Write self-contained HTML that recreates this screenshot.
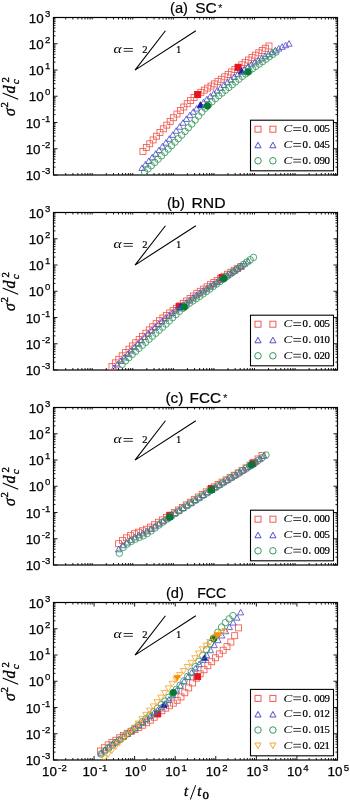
<!DOCTYPE html>
<html><head><meta charset="utf-8"><style>
html,body{margin:0;padding:0;background:#fff;width:350px;height:801px;overflow:hidden}
svg{display:block;will-change:transform}
.tl{font-family:"Liberation Sans",sans-serif;font-size:13.4px;fill:#000;stroke:#000;stroke-width:0.25px}
.sp{font-size:9.6px}
.tt{font-family:"Liberation Sans",sans-serif;font-size:14.5px;fill:#000;stroke:#000;stroke-width:0.2px}
.st{font-family:"Liberation Sans",sans-serif;fill:#000}
.mi{font-family:"Liberation Serif",serif;font-style:italic;fill:#000}

.lg{stroke:#000;stroke-width:0.2px}

.bd text{stroke:#000;stroke-width:0.35px}
.mr{font-family:"Liberation Serif",serif;fill:#000}
</style></head><body>
<svg width="350" height="801" viewBox="0 0 350 801">
<path d="M65.71 175.0v-2M65.71 17.5v2M72.86 175.0v-2M72.86 17.5v2M77.93 175.0v-2M77.93 17.5v2M81.86 175.0v-2M81.86 17.5v2M85.07 175.0v-2M85.07 17.5v2M87.79 175.0v-2M87.79 17.5v2M90.14 175.0v-2M90.14 17.5v2M92.21 175.0v-2M92.21 17.5v2M106.28 175.0v-2M106.28 17.5v2M113.43 175.0v-2M113.43 17.5v2M118.50 175.0v-2M118.50 17.5v2M122.43 175.0v-2M122.43 17.5v2M125.64 175.0v-2M125.64 17.5v2M128.36 175.0v-2M128.36 17.5v2M130.71 175.0v-2M130.71 17.5v2M132.78 175.0v-2M132.78 17.5v2M146.85 175.0v-2M146.85 17.5v2M154.00 175.0v-2M154.00 17.5v2M159.07 175.0v-2M159.07 17.5v2M163.00 175.0v-2M163.00 17.5v2M166.21 175.0v-2M166.21 17.5v2M168.93 175.0v-2M168.93 17.5v2M171.28 175.0v-2M171.28 17.5v2M173.35 175.0v-2M173.35 17.5v2M187.42 175.0v-2M187.42 17.5v2M194.57 175.0v-2M194.57 17.5v2M199.64 175.0v-2M199.64 17.5v2M203.57 175.0v-2M203.57 17.5v2M206.78 175.0v-2M206.78 17.5v2M209.50 175.0v-2M209.50 17.5v2M211.85 175.0v-2M211.85 17.5v2M213.92 175.0v-2M213.92 17.5v2M227.99 175.0v-2M227.99 17.5v2M235.14 175.0v-2M235.14 17.5v2M240.21 175.0v-2M240.21 17.5v2M244.14 175.0v-2M244.14 17.5v2M247.35 175.0v-2M247.35 17.5v2M250.07 175.0v-2M250.07 17.5v2M252.42 175.0v-2M252.42 17.5v2M254.49 175.0v-2M254.49 17.5v2M268.56 175.0v-2M268.56 17.5v2M275.71 175.0v-2M275.71 17.5v2M280.78 175.0v-2M280.78 17.5v2M284.71 175.0v-2M284.71 17.5v2M287.92 175.0v-2M287.92 17.5v2M290.64 175.0v-2M290.64 17.5v2M292.99 175.0v-2M292.99 17.5v2M295.06 175.0v-2M295.06 17.5v2M309.13 175.0v-2M309.13 17.5v2M316.28 175.0v-2M316.28 17.5v2M321.35 175.0v-2M321.35 17.5v2M325.28 175.0v-2M325.28 17.5v2M328.49 175.0v-2M328.49 17.5v2M331.21 175.0v-2M331.21 17.5v2M333.56 175.0v-2M333.56 17.5v2M335.63 175.0v-2M335.63 17.5v2M53.5 175.00h4M337.49 175.00h-4M53.5 167.10h2M337.49 167.10h-2M53.5 162.48h2M337.49 162.48h-2M53.5 159.20h2M337.49 159.20h-2M53.5 156.65h2M337.49 156.65h-2M53.5 154.57h2M337.49 154.57h-2M53.5 152.82h2M337.49 152.82h-2M53.5 151.29h2M337.49 151.29h-2M53.5 149.95h2M337.49 149.95h-2M53.5 148.75h4M337.49 148.75h-4M53.5 140.85h2M337.49 140.85h-2M53.5 136.23h2M337.49 136.23h-2M53.5 132.95h2M337.49 132.95h-2M53.5 130.40h2M337.49 130.40h-2M53.5 128.32h2M337.49 128.32h-2M53.5 126.57h2M337.49 126.57h-2M53.5 125.04h2M337.49 125.04h-2M53.5 123.70h2M337.49 123.70h-2M53.5 122.50h4M337.49 122.50h-4M53.5 114.60h2M337.49 114.60h-2M53.5 109.98h2M337.49 109.98h-2M53.5 106.70h2M337.49 106.70h-2M53.5 104.15h2M337.49 104.15h-2M53.5 102.07h2M337.49 102.07h-2M53.5 100.32h2M337.49 100.32h-2M53.5 98.79h2M337.49 98.79h-2M53.5 97.45h2M337.49 97.45h-2M53.5 96.25h4M337.49 96.25h-4M53.5 88.35h2M337.49 88.35h-2M53.5 83.73h2M337.49 83.73h-2M53.5 80.45h2M337.49 80.45h-2M53.5 77.90h2M337.49 77.90h-2M53.5 75.82h2M337.49 75.82h-2M53.5 74.07h2M337.49 74.07h-2M53.5 72.54h2M337.49 72.54h-2M53.5 71.20h2M337.49 71.20h-2M53.5 70.00h4M337.49 70.00h-4M53.5 62.10h2M337.49 62.10h-2M53.5 57.48h2M337.49 57.48h-2M53.5 54.20h2M337.49 54.20h-2M53.5 51.65h2M337.49 51.65h-2M53.5 49.57h2M337.49 49.57h-2M53.5 47.82h2M337.49 47.82h-2M53.5 46.29h2M337.49 46.29h-2M53.5 44.95h2M337.49 44.95h-2M53.5 43.75h4M337.49 43.75h-4M53.5 35.85h2M337.49 35.85h-2M53.5 31.23h2M337.49 31.23h-2M53.5 27.95h2M337.49 27.95h-2M53.5 25.40h2M337.49 25.40h-2M53.5 23.32h2M337.49 23.32h-2M53.5 21.57h2M337.49 21.57h-2M53.5 20.04h2M337.49 20.04h-2M53.5 18.70h2M337.49 18.70h-2M53.5 17.50h4M337.49 17.50h-4" stroke="#000" stroke-width="0.9" fill="none"/>
<rect x="53.5" y="17.5" width="283.99" height="157.5" fill="none" stroke="#000" stroke-width="1.2"/>
<text x="50.3" y="180.00" class="tl" text-anchor="end">10<tspan class="sp" dx="1.2" dy="-5.8">-3</tspan></text>
<text x="50.3" y="153.75" class="tl" text-anchor="end">10<tspan class="sp" dx="1.2" dy="-5.8">-2</tspan></text>
<text x="50.3" y="127.50" class="tl" text-anchor="end">10<tspan class="sp" dx="1.2" dy="-5.8">-1</tspan></text>
<text x="50.3" y="101.25" class="tl" text-anchor="end">10<tspan class="sp" dx="1.2" dy="-5.8">0</tspan></text>
<text x="50.3" y="75.00" class="tl" text-anchor="end">10<tspan class="sp" dx="1.2" dy="-5.8">1</tspan></text>
<text x="50.3" y="48.75" class="tl" text-anchor="end">10<tspan class="sp" dx="1.2" dy="-5.8">2</tspan></text>
<text x="50.3" y="22.50" class="tl" text-anchor="end">10<tspan class="sp" dx="1.2" dy="-5.8">3</tspan></text>
<path d="M65.71 370.0v-2M65.71 212.5v2M72.86 370.0v-2M72.86 212.5v2M77.93 370.0v-2M77.93 212.5v2M81.86 370.0v-2M81.86 212.5v2M85.07 370.0v-2M85.07 212.5v2M87.79 370.0v-2M87.79 212.5v2M90.14 370.0v-2M90.14 212.5v2M92.21 370.0v-2M92.21 212.5v2M106.28 370.0v-2M106.28 212.5v2M113.43 370.0v-2M113.43 212.5v2M118.50 370.0v-2M118.50 212.5v2M122.43 370.0v-2M122.43 212.5v2M125.64 370.0v-2M125.64 212.5v2M128.36 370.0v-2M128.36 212.5v2M130.71 370.0v-2M130.71 212.5v2M132.78 370.0v-2M132.78 212.5v2M146.85 370.0v-2M146.85 212.5v2M154.00 370.0v-2M154.00 212.5v2M159.07 370.0v-2M159.07 212.5v2M163.00 370.0v-2M163.00 212.5v2M166.21 370.0v-2M166.21 212.5v2M168.93 370.0v-2M168.93 212.5v2M171.28 370.0v-2M171.28 212.5v2M173.35 370.0v-2M173.35 212.5v2M187.42 370.0v-2M187.42 212.5v2M194.57 370.0v-2M194.57 212.5v2M199.64 370.0v-2M199.64 212.5v2M203.57 370.0v-2M203.57 212.5v2M206.78 370.0v-2M206.78 212.5v2M209.50 370.0v-2M209.50 212.5v2M211.85 370.0v-2M211.85 212.5v2M213.92 370.0v-2M213.92 212.5v2M227.99 370.0v-2M227.99 212.5v2M235.14 370.0v-2M235.14 212.5v2M240.21 370.0v-2M240.21 212.5v2M244.14 370.0v-2M244.14 212.5v2M247.35 370.0v-2M247.35 212.5v2M250.07 370.0v-2M250.07 212.5v2M252.42 370.0v-2M252.42 212.5v2M254.49 370.0v-2M254.49 212.5v2M268.56 370.0v-2M268.56 212.5v2M275.71 370.0v-2M275.71 212.5v2M280.78 370.0v-2M280.78 212.5v2M284.71 370.0v-2M284.71 212.5v2M287.92 370.0v-2M287.92 212.5v2M290.64 370.0v-2M290.64 212.5v2M292.99 370.0v-2M292.99 212.5v2M295.06 370.0v-2M295.06 212.5v2M309.13 370.0v-2M309.13 212.5v2M316.28 370.0v-2M316.28 212.5v2M321.35 370.0v-2M321.35 212.5v2M325.28 370.0v-2M325.28 212.5v2M328.49 370.0v-2M328.49 212.5v2M331.21 370.0v-2M331.21 212.5v2M333.56 370.0v-2M333.56 212.5v2M335.63 370.0v-2M335.63 212.5v2M53.5 370.00h4M337.49 370.00h-4M53.5 362.10h2M337.49 362.10h-2M53.5 357.48h2M337.49 357.48h-2M53.5 354.20h2M337.49 354.20h-2M53.5 351.65h2M337.49 351.65h-2M53.5 349.57h2M337.49 349.57h-2M53.5 347.82h2M337.49 347.82h-2M53.5 346.29h2M337.49 346.29h-2M53.5 344.95h2M337.49 344.95h-2M53.5 343.75h4M337.49 343.75h-4M53.5 335.85h2M337.49 335.85h-2M53.5 331.23h2M337.49 331.23h-2M53.5 327.95h2M337.49 327.95h-2M53.5 325.40h2M337.49 325.40h-2M53.5 323.32h2M337.49 323.32h-2M53.5 321.57h2M337.49 321.57h-2M53.5 320.04h2M337.49 320.04h-2M53.5 318.70h2M337.49 318.70h-2M53.5 317.50h4M337.49 317.50h-4M53.5 309.60h2M337.49 309.60h-2M53.5 304.98h2M337.49 304.98h-2M53.5 301.70h2M337.49 301.70h-2M53.5 299.15h2M337.49 299.15h-2M53.5 297.07h2M337.49 297.07h-2M53.5 295.32h2M337.49 295.32h-2M53.5 293.79h2M337.49 293.79h-2M53.5 292.45h2M337.49 292.45h-2M53.5 291.25h4M337.49 291.25h-4M53.5 283.35h2M337.49 283.35h-2M53.5 278.73h2M337.49 278.73h-2M53.5 275.45h2M337.49 275.45h-2M53.5 272.90h2M337.49 272.90h-2M53.5 270.82h2M337.49 270.82h-2M53.5 269.07h2M337.49 269.07h-2M53.5 267.54h2M337.49 267.54h-2M53.5 266.20h2M337.49 266.20h-2M53.5 265.00h4M337.49 265.00h-4M53.5 257.10h2M337.49 257.10h-2M53.5 252.48h2M337.49 252.48h-2M53.5 249.20h2M337.49 249.20h-2M53.5 246.65h2M337.49 246.65h-2M53.5 244.57h2M337.49 244.57h-2M53.5 242.82h2M337.49 242.82h-2M53.5 241.29h2M337.49 241.29h-2M53.5 239.95h2M337.49 239.95h-2M53.5 238.75h4M337.49 238.75h-4M53.5 230.85h2M337.49 230.85h-2M53.5 226.23h2M337.49 226.23h-2M53.5 222.95h2M337.49 222.95h-2M53.5 220.40h2M337.49 220.40h-2M53.5 218.32h2M337.49 218.32h-2M53.5 216.57h2M337.49 216.57h-2M53.5 215.04h2M337.49 215.04h-2M53.5 213.70h2M337.49 213.70h-2M53.5 212.50h4M337.49 212.50h-4" stroke="#000" stroke-width="0.9" fill="none"/>
<rect x="53.5" y="212.5" width="283.99" height="157.5" fill="none" stroke="#000" stroke-width="1.2"/>
<text x="50.3" y="375.00" class="tl" text-anchor="end">10<tspan class="sp" dx="1.2" dy="-5.8">-3</tspan></text>
<text x="50.3" y="348.75" class="tl" text-anchor="end">10<tspan class="sp" dx="1.2" dy="-5.8">-2</tspan></text>
<text x="50.3" y="322.50" class="tl" text-anchor="end">10<tspan class="sp" dx="1.2" dy="-5.8">-1</tspan></text>
<text x="50.3" y="296.25" class="tl" text-anchor="end">10<tspan class="sp" dx="1.2" dy="-5.8">0</tspan></text>
<text x="50.3" y="270.00" class="tl" text-anchor="end">10<tspan class="sp" dx="1.2" dy="-5.8">1</tspan></text>
<text x="50.3" y="243.75" class="tl" text-anchor="end">10<tspan class="sp" dx="1.2" dy="-5.8">2</tspan></text>
<text x="50.3" y="217.50" class="tl" text-anchor="end">10<tspan class="sp" dx="1.2" dy="-5.8">3</tspan></text>
<path d="M65.71 565.0v-2M65.71 407.5v2M72.86 565.0v-2M72.86 407.5v2M77.93 565.0v-2M77.93 407.5v2M81.86 565.0v-2M81.86 407.5v2M85.07 565.0v-2M85.07 407.5v2M87.79 565.0v-2M87.79 407.5v2M90.14 565.0v-2M90.14 407.5v2M92.21 565.0v-2M92.21 407.5v2M106.28 565.0v-2M106.28 407.5v2M113.43 565.0v-2M113.43 407.5v2M118.50 565.0v-2M118.50 407.5v2M122.43 565.0v-2M122.43 407.5v2M125.64 565.0v-2M125.64 407.5v2M128.36 565.0v-2M128.36 407.5v2M130.71 565.0v-2M130.71 407.5v2M132.78 565.0v-2M132.78 407.5v2M146.85 565.0v-2M146.85 407.5v2M154.00 565.0v-2M154.00 407.5v2M159.07 565.0v-2M159.07 407.5v2M163.00 565.0v-2M163.00 407.5v2M166.21 565.0v-2M166.21 407.5v2M168.93 565.0v-2M168.93 407.5v2M171.28 565.0v-2M171.28 407.5v2M173.35 565.0v-2M173.35 407.5v2M187.42 565.0v-2M187.42 407.5v2M194.57 565.0v-2M194.57 407.5v2M199.64 565.0v-2M199.64 407.5v2M203.57 565.0v-2M203.57 407.5v2M206.78 565.0v-2M206.78 407.5v2M209.50 565.0v-2M209.50 407.5v2M211.85 565.0v-2M211.85 407.5v2M213.92 565.0v-2M213.92 407.5v2M227.99 565.0v-2M227.99 407.5v2M235.14 565.0v-2M235.14 407.5v2M240.21 565.0v-2M240.21 407.5v2M244.14 565.0v-2M244.14 407.5v2M247.35 565.0v-2M247.35 407.5v2M250.07 565.0v-2M250.07 407.5v2M252.42 565.0v-2M252.42 407.5v2M254.49 565.0v-2M254.49 407.5v2M268.56 565.0v-2M268.56 407.5v2M275.71 565.0v-2M275.71 407.5v2M280.78 565.0v-2M280.78 407.5v2M284.71 565.0v-2M284.71 407.5v2M287.92 565.0v-2M287.92 407.5v2M290.64 565.0v-2M290.64 407.5v2M292.99 565.0v-2M292.99 407.5v2M295.06 565.0v-2M295.06 407.5v2M309.13 565.0v-2M309.13 407.5v2M316.28 565.0v-2M316.28 407.5v2M321.35 565.0v-2M321.35 407.5v2M325.28 565.0v-2M325.28 407.5v2M328.49 565.0v-2M328.49 407.5v2M331.21 565.0v-2M331.21 407.5v2M333.56 565.0v-2M333.56 407.5v2M335.63 565.0v-2M335.63 407.5v2M53.5 565.00h4M337.49 565.00h-4M53.5 557.10h2M337.49 557.10h-2M53.5 552.48h2M337.49 552.48h-2M53.5 549.20h2M337.49 549.20h-2M53.5 546.65h2M337.49 546.65h-2M53.5 544.57h2M337.49 544.57h-2M53.5 542.82h2M337.49 542.82h-2M53.5 541.29h2M337.49 541.29h-2M53.5 539.95h2M337.49 539.95h-2M53.5 538.75h4M337.49 538.75h-4M53.5 530.85h2M337.49 530.85h-2M53.5 526.23h2M337.49 526.23h-2M53.5 522.95h2M337.49 522.95h-2M53.5 520.40h2M337.49 520.40h-2M53.5 518.32h2M337.49 518.32h-2M53.5 516.57h2M337.49 516.57h-2M53.5 515.04h2M337.49 515.04h-2M53.5 513.70h2M337.49 513.70h-2M53.5 512.50h4M337.49 512.50h-4M53.5 504.60h2M337.49 504.60h-2M53.5 499.98h2M337.49 499.98h-2M53.5 496.70h2M337.49 496.70h-2M53.5 494.15h2M337.49 494.15h-2M53.5 492.07h2M337.49 492.07h-2M53.5 490.32h2M337.49 490.32h-2M53.5 488.79h2M337.49 488.79h-2M53.5 487.45h2M337.49 487.45h-2M53.5 486.25h4M337.49 486.25h-4M53.5 478.35h2M337.49 478.35h-2M53.5 473.73h2M337.49 473.73h-2M53.5 470.45h2M337.49 470.45h-2M53.5 467.90h2M337.49 467.90h-2M53.5 465.82h2M337.49 465.82h-2M53.5 464.07h2M337.49 464.07h-2M53.5 462.54h2M337.49 462.54h-2M53.5 461.20h2M337.49 461.20h-2M53.5 460.00h4M337.49 460.00h-4M53.5 452.10h2M337.49 452.10h-2M53.5 447.48h2M337.49 447.48h-2M53.5 444.20h2M337.49 444.20h-2M53.5 441.65h2M337.49 441.65h-2M53.5 439.57h2M337.49 439.57h-2M53.5 437.82h2M337.49 437.82h-2M53.5 436.29h2M337.49 436.29h-2M53.5 434.95h2M337.49 434.95h-2M53.5 433.75h4M337.49 433.75h-4M53.5 425.85h2M337.49 425.85h-2M53.5 421.23h2M337.49 421.23h-2M53.5 417.95h2M337.49 417.95h-2M53.5 415.40h2M337.49 415.40h-2M53.5 413.32h2M337.49 413.32h-2M53.5 411.57h2M337.49 411.57h-2M53.5 410.04h2M337.49 410.04h-2M53.5 408.70h2M337.49 408.70h-2M53.5 407.50h4M337.49 407.50h-4" stroke="#000" stroke-width="0.9" fill="none"/>
<rect x="53.5" y="407.5" width="283.99" height="157.5" fill="none" stroke="#000" stroke-width="1.2"/>
<text x="50.3" y="570.00" class="tl" text-anchor="end">10<tspan class="sp" dx="1.2" dy="-5.8">-3</tspan></text>
<text x="50.3" y="543.75" class="tl" text-anchor="end">10<tspan class="sp" dx="1.2" dy="-5.8">-2</tspan></text>
<text x="50.3" y="517.50" class="tl" text-anchor="end">10<tspan class="sp" dx="1.2" dy="-5.8">-1</tspan></text>
<text x="50.3" y="491.25" class="tl" text-anchor="end">10<tspan class="sp" dx="1.2" dy="-5.8">0</tspan></text>
<text x="50.3" y="465.00" class="tl" text-anchor="end">10<tspan class="sp" dx="1.2" dy="-5.8">1</tspan></text>
<text x="50.3" y="438.75" class="tl" text-anchor="end">10<tspan class="sp" dx="1.2" dy="-5.8">2</tspan></text>
<text x="50.3" y="412.50" class="tl" text-anchor="end">10<tspan class="sp" dx="1.2" dy="-5.8">3</tspan></text>
<path d="M53.50 760.0v-4M53.50 602.5v4M65.71 760.0v-2M65.71 602.5v2M72.86 760.0v-2M72.86 602.5v2M77.93 760.0v-2M77.93 602.5v2M81.86 760.0v-2M81.86 602.5v2M85.07 760.0v-2M85.07 602.5v2M87.79 760.0v-2M87.79 602.5v2M90.14 760.0v-2M90.14 602.5v2M92.21 760.0v-2M92.21 602.5v2M94.07 760.0v-4M94.07 602.5v4M106.28 760.0v-2M106.28 602.5v2M113.43 760.0v-2M113.43 602.5v2M118.50 760.0v-2M118.50 602.5v2M122.43 760.0v-2M122.43 602.5v2M125.64 760.0v-2M125.64 602.5v2M128.36 760.0v-2M128.36 602.5v2M130.71 760.0v-2M130.71 602.5v2M132.78 760.0v-2M132.78 602.5v2M134.64 760.0v-4M134.64 602.5v4M146.85 760.0v-2M146.85 602.5v2M154.00 760.0v-2M154.00 602.5v2M159.07 760.0v-2M159.07 602.5v2M163.00 760.0v-2M163.00 602.5v2M166.21 760.0v-2M166.21 602.5v2M168.93 760.0v-2M168.93 602.5v2M171.28 760.0v-2M171.28 602.5v2M173.35 760.0v-2M173.35 602.5v2M175.21 760.0v-4M175.21 602.5v4M187.42 760.0v-2M187.42 602.5v2M194.57 760.0v-2M194.57 602.5v2M199.64 760.0v-2M199.64 602.5v2M203.57 760.0v-2M203.57 602.5v2M206.78 760.0v-2M206.78 602.5v2M209.50 760.0v-2M209.50 602.5v2M211.85 760.0v-2M211.85 602.5v2M213.92 760.0v-2M213.92 602.5v2M215.78 760.0v-4M215.78 602.5v4M227.99 760.0v-2M227.99 602.5v2M235.14 760.0v-2M235.14 602.5v2M240.21 760.0v-2M240.21 602.5v2M244.14 760.0v-2M244.14 602.5v2M247.35 760.0v-2M247.35 602.5v2M250.07 760.0v-2M250.07 602.5v2M252.42 760.0v-2M252.42 602.5v2M254.49 760.0v-2M254.49 602.5v2M256.35 760.0v-4M256.35 602.5v4M268.56 760.0v-2M268.56 602.5v2M275.71 760.0v-2M275.71 602.5v2M280.78 760.0v-2M280.78 602.5v2M284.71 760.0v-2M284.71 602.5v2M287.92 760.0v-2M287.92 602.5v2M290.64 760.0v-2M290.64 602.5v2M292.99 760.0v-2M292.99 602.5v2M295.06 760.0v-2M295.06 602.5v2M296.92 760.0v-4M296.92 602.5v4M309.13 760.0v-2M309.13 602.5v2M316.28 760.0v-2M316.28 602.5v2M321.35 760.0v-2M321.35 602.5v2M325.28 760.0v-2M325.28 602.5v2M328.49 760.0v-2M328.49 602.5v2M331.21 760.0v-2M331.21 602.5v2M333.56 760.0v-2M333.56 602.5v2M335.63 760.0v-2M335.63 602.5v2M337.49 760.0v-4M337.49 602.5v4M53.5 760.00h4M337.49 760.00h-4M53.5 752.10h2M337.49 752.10h-2M53.5 747.48h2M337.49 747.48h-2M53.5 744.20h2M337.49 744.20h-2M53.5 741.65h2M337.49 741.65h-2M53.5 739.57h2M337.49 739.57h-2M53.5 737.82h2M337.49 737.82h-2M53.5 736.29h2M337.49 736.29h-2M53.5 734.95h2M337.49 734.95h-2M53.5 733.75h4M337.49 733.75h-4M53.5 725.85h2M337.49 725.85h-2M53.5 721.23h2M337.49 721.23h-2M53.5 717.95h2M337.49 717.95h-2M53.5 715.40h2M337.49 715.40h-2M53.5 713.32h2M337.49 713.32h-2M53.5 711.57h2M337.49 711.57h-2M53.5 710.04h2M337.49 710.04h-2M53.5 708.70h2M337.49 708.70h-2M53.5 707.50h4M337.49 707.50h-4M53.5 699.60h2M337.49 699.60h-2M53.5 694.98h2M337.49 694.98h-2M53.5 691.70h2M337.49 691.70h-2M53.5 689.15h2M337.49 689.15h-2M53.5 687.07h2M337.49 687.07h-2M53.5 685.32h2M337.49 685.32h-2M53.5 683.79h2M337.49 683.79h-2M53.5 682.45h2M337.49 682.45h-2M53.5 681.25h4M337.49 681.25h-4M53.5 673.35h2M337.49 673.35h-2M53.5 668.73h2M337.49 668.73h-2M53.5 665.45h2M337.49 665.45h-2M53.5 662.90h2M337.49 662.90h-2M53.5 660.82h2M337.49 660.82h-2M53.5 659.07h2M337.49 659.07h-2M53.5 657.54h2M337.49 657.54h-2M53.5 656.20h2M337.49 656.20h-2M53.5 655.00h4M337.49 655.00h-4M53.5 647.10h2M337.49 647.10h-2M53.5 642.48h2M337.49 642.48h-2M53.5 639.20h2M337.49 639.20h-2M53.5 636.65h2M337.49 636.65h-2M53.5 634.57h2M337.49 634.57h-2M53.5 632.82h2M337.49 632.82h-2M53.5 631.29h2M337.49 631.29h-2M53.5 629.95h2M337.49 629.95h-2M53.5 628.75h4M337.49 628.75h-4M53.5 620.85h2M337.49 620.85h-2M53.5 616.23h2M337.49 616.23h-2M53.5 612.95h2M337.49 612.95h-2M53.5 610.40h2M337.49 610.40h-2M53.5 608.32h2M337.49 608.32h-2M53.5 606.57h2M337.49 606.57h-2M53.5 605.04h2M337.49 605.04h-2M53.5 603.70h2M337.49 603.70h-2M53.5 602.50h4M337.49 602.50h-4" stroke="#000" stroke-width="0.9" fill="none"/>
<rect x="53.5" y="602.5" width="283.99" height="157.5" fill="none" stroke="#000" stroke-width="1.2"/>
<text x="50.3" y="765.00" class="tl" text-anchor="end">10<tspan class="sp" dx="1.2" dy="-5.8">-3</tspan></text>
<text x="50.3" y="738.75" class="tl" text-anchor="end">10<tspan class="sp" dx="1.2" dy="-5.8">-2</tspan></text>
<text x="50.3" y="712.50" class="tl" text-anchor="end">10<tspan class="sp" dx="1.2" dy="-5.8">-1</tspan></text>
<text x="50.3" y="686.25" class="tl" text-anchor="end">10<tspan class="sp" dx="1.2" dy="-5.8">0</tspan></text>
<text x="50.3" y="660.00" class="tl" text-anchor="end">10<tspan class="sp" dx="1.2" dy="-5.8">1</tspan></text>
<text x="50.3" y="633.75" class="tl" text-anchor="end">10<tspan class="sp" dx="1.2" dy="-5.8">2</tspan></text>
<text x="50.3" y="607.50" class="tl" text-anchor="end">10<tspan class="sp" dx="1.2" dy="-5.8">3</tspan></text>
<text x="54.40" y="776.1" class="tl" text-anchor="middle">10<tspan class="sp" dx="1.4" dy="-5.6">-2</tspan></text>
<text x="94.97" y="776.1" class="tl" text-anchor="middle">10<tspan class="sp" dx="1.4" dy="-5.6">-1</tspan></text>
<text x="135.54" y="776.1" class="tl" text-anchor="middle">10<tspan class="sp" dx="1.4" dy="-5.6">0</tspan></text>
<text x="176.11" y="776.1" class="tl" text-anchor="middle">10<tspan class="sp" dx="1.4" dy="-5.6">1</tspan></text>
<text x="216.68" y="776.1" class="tl" text-anchor="middle">10<tspan class="sp" dx="1.4" dy="-5.6">2</tspan></text>
<text x="257.25" y="776.1" class="tl" text-anchor="middle">10<tspan class="sp" dx="1.4" dy="-5.6">3</tspan></text>
<text x="297.82" y="776.1" class="tl" text-anchor="middle">10<tspan class="sp" dx="1.4" dy="-5.6">4</tspan></text>
<text x="338.39" y="776.1" class="tl" text-anchor="middle">10<tspan class="sp" dx="1.4" dy="-5.6">5</tspan></text>
<text x="170.00" y="12.60" class="tt" textLength="18" lengthAdjust="spacingAndGlyphs">(a)</text>
<text x="195.20" y="12.60" class="tt" textLength="21.60" lengthAdjust="spacingAndGlyphs">SC</text>
<text x="217.90" y="11.60" class="st" font-size="11.5">*</text>
<text x="166.90" y="207.60" class="tt" textLength="18" lengthAdjust="spacingAndGlyphs">(b)</text>
<text x="191.50" y="207.60" class="tt" textLength="34.10" lengthAdjust="spacingAndGlyphs">RND</text>
<text x="165.40" y="402.60" class="tt" textLength="18" lengthAdjust="spacingAndGlyphs">(c)</text>
<text x="189.60" y="402.60" class="tt" textLength="31.40" lengthAdjust="spacingAndGlyphs">FCC</text>
<text x="222.90" y="401.60" class="st" font-size="11.5">*</text>
<text x="165.90" y="597.60" class="tt" textLength="18" lengthAdjust="spacingAndGlyphs">(d)</text>
<text x="197.20" y="597.60" class="tt" textLength="28.90" lengthAdjust="spacingAndGlyphs">FCC</text>
<g transform="translate(14.7 116.00) rotate(-90)" class="bd"><text x="0" y="0" class="mi" font-size="16" textLength="7.8" lengthAdjust="spacingAndGlyphs">σ</text><text x="8.6" y="-6.6" class="mr" font-size="10.8">2</text><path d="M16.8 3.5L23 -12" stroke="#000" stroke-width="1.05"/><text x="22.6" y="0" class="mi" font-size="16">d</text><text x="31.8" y="3.8" class="mi" font-size="11">c</text><text x="33.6" y="-6.2" class="mr" font-size="10.8">2</text></g>
<g transform="translate(14.7 311.00) rotate(-90)" class="bd"><text x="0" y="0" class="mi" font-size="16" textLength="7.8" lengthAdjust="spacingAndGlyphs">σ</text><text x="8.6" y="-6.6" class="mr" font-size="10.8">2</text><path d="M16.8 3.5L23 -12" stroke="#000" stroke-width="1.05"/><text x="22.6" y="0" class="mi" font-size="16">d</text><text x="31.8" y="3.8" class="mi" font-size="11">c</text><text x="33.6" y="-6.2" class="mr" font-size="10.8">2</text></g>
<g transform="translate(14.7 506.00) rotate(-90)" class="bd"><text x="0" y="0" class="mi" font-size="16" textLength="7.8" lengthAdjust="spacingAndGlyphs">σ</text><text x="8.6" y="-6.6" class="mr" font-size="10.8">2</text><path d="M16.8 3.5L23 -12" stroke="#000" stroke-width="1.05"/><text x="22.6" y="0" class="mi" font-size="16">d</text><text x="31.8" y="3.8" class="mi" font-size="11">c</text><text x="33.6" y="-6.2" class="mr" font-size="10.8">2</text></g>
<g transform="translate(14.7 701.00) rotate(-90)" class="bd"><text x="0" y="0" class="mi" font-size="16" textLength="7.8" lengthAdjust="spacingAndGlyphs">σ</text><text x="8.6" y="-6.6" class="mr" font-size="10.8">2</text><path d="M16.8 3.5L23 -12" stroke="#000" stroke-width="1.05"/><text x="22.6" y="0" class="mi" font-size="16">d</text><text x="31.8" y="3.8" class="mi" font-size="11">c</text><text x="33.6" y="-6.2" class="mr" font-size="10.8">2</text></g>
<path d="M135 70.10L165.43 30.72M135 70.10L195.86 30.72" stroke="#000" stroke-width="1.1" fill="none"/>
<text x="113.6" y="52.60" class="mi" font-size="13.2" textLength="8.2" lengthAdjust="spacingAndGlyphs">α</text>
<path d="M123.6 48.50h9.3M123.6 51.30h9.3" stroke="#000" stroke-width="0.8"/>
<text x="142.2" y="52.60" class="mr lg" font-size="10.5">2</text>
<text x="176.0" y="52.70" class="mr lg" font-size="10.5">1</text>
<path d="M135 265.10L165.43 225.73M135 265.10L195.86 225.73" stroke="#000" stroke-width="1.1" fill="none"/>
<text x="113.6" y="247.60" class="mi" font-size="13.2" textLength="8.2" lengthAdjust="spacingAndGlyphs">α</text>
<path d="M123.6 243.50h9.3M123.6 246.30h9.3" stroke="#000" stroke-width="0.8"/>
<text x="142.2" y="247.60" class="mr lg" font-size="10.5">2</text>
<text x="176.0" y="247.70" class="mr lg" font-size="10.5">1</text>
<path d="M135 460.10L165.43 420.73M135 460.10L195.86 420.73" stroke="#000" stroke-width="1.1" fill="none"/>
<text x="113.6" y="442.60" class="mi" font-size="13.2" textLength="8.2" lengthAdjust="spacingAndGlyphs">α</text>
<path d="M123.6 438.50h9.3M123.6 441.30h9.3" stroke="#000" stroke-width="0.8"/>
<text x="142.2" y="442.60" class="mr lg" font-size="10.5">2</text>
<text x="176.0" y="442.70" class="mr lg" font-size="10.5">1</text>
<path d="M135 655.10L165.43 615.73M135 655.10L195.86 615.73" stroke="#000" stroke-width="1.1" fill="none"/>
<text x="113.6" y="637.60" class="mi" font-size="13.2" textLength="8.2" lengthAdjust="spacingAndGlyphs">α</text>
<path d="M123.6 633.50h9.3M123.6 636.30h9.3" stroke="#000" stroke-width="0.8"/>
<text x="142.2" y="637.60" class="mr lg" font-size="10.5">2</text>
<text x="176.0" y="637.70" class="mr lg" font-size="10.5">1</text>
<clipPath id="c0"><rect x="53.5" y="17.5" width="283.99" height="157.5"/></clipPath>
<g clip-path="url(#c0)" stroke-width="0.85">
<rect x="139.90" y="148.40" width="6.00" height="6.00" stroke="#f05a50" fill="none"/>
<rect x="143.31" y="144.56" width="6.00" height="6.00" stroke="#f05a50" fill="none"/>
<rect x="146.72" y="140.75" width="6.00" height="6.00" stroke="#f05a50" fill="none"/>
<rect x="150.12" y="136.96" width="6.00" height="6.00" stroke="#f05a50" fill="none"/>
<rect x="153.53" y="133.21" width="6.00" height="6.00" stroke="#f05a50" fill="none"/>
<rect x="156.94" y="129.48" width="6.00" height="6.00" stroke="#f05a50" fill="none"/>
<rect x="160.35" y="125.78" width="6.00" height="6.00" stroke="#f05a50" fill="none"/>
<rect x="163.76" y="122.10" width="6.00" height="6.00" stroke="#f05a50" fill="none"/>
<rect x="167.16" y="118.40" width="6.00" height="6.00" stroke="#f05a50" fill="none"/>
<rect x="170.57" y="114.70" width="6.00" height="6.00" stroke="#f05a50" fill="none"/>
<rect x="173.98" y="111.05" width="6.00" height="6.00" stroke="#f05a50" fill="none"/>
<rect x="177.39" y="107.48" width="6.00" height="6.00" stroke="#f05a50" fill="none"/>
<rect x="180.80" y="104.02" width="6.00" height="6.00" stroke="#f05a50" fill="none"/>
<rect x="184.21" y="100.72" width="6.00" height="6.00" stroke="#f05a50" fill="none"/>
<rect x="187.61" y="97.52" width="6.00" height="6.00" stroke="#f05a50" fill="none"/>
<rect x="191.02" y="94.47" width="6.00" height="6.00" stroke="#f05a50" fill="none"/>
<rect x="194.43" y="91.70" width="6.00" height="6.00" stroke="#f05a50" fill="none"/>
<rect x="197.84" y="89.30" width="6.00" height="6.00" stroke="#f05a50" fill="none"/>
<rect x="201.25" y="87.14" width="6.00" height="6.00" stroke="#f05a50" fill="none"/>
<rect x="204.65" y="85.10" width="6.00" height="6.00" stroke="#f05a50" fill="none"/>
<rect x="208.06" y="83.05" width="6.00" height="6.00" stroke="#f05a50" fill="none"/>
<rect x="211.47" y="80.89" width="6.00" height="6.00" stroke="#f05a50" fill="none"/>
<rect x="214.88" y="78.59" width="6.00" height="6.00" stroke="#f05a50" fill="none"/>
<rect x="218.29" y="76.24" width="6.00" height="6.00" stroke="#f05a50" fill="none"/>
<rect x="221.69" y="73.84" width="6.00" height="6.00" stroke="#f05a50" fill="none"/>
<rect x="225.10" y="71.42" width="6.00" height="6.00" stroke="#f05a50" fill="none"/>
<rect x="228.51" y="68.99" width="6.00" height="6.00" stroke="#f05a50" fill="none"/>
<rect x="231.92" y="66.57" width="6.00" height="6.00" stroke="#f05a50" fill="none"/>
<rect x="235.33" y="64.17" width="6.00" height="6.00" stroke="#f05a50" fill="none"/>
<rect x="238.74" y="61.79" width="6.00" height="6.00" stroke="#f05a50" fill="none"/>
<rect x="242.14" y="59.40" width="6.00" height="6.00" stroke="#f05a50" fill="none"/>
<rect x="245.55" y="57.01" width="6.00" height="6.00" stroke="#f05a50" fill="none"/>
<rect x="248.96" y="54.62" width="6.00" height="6.00" stroke="#f05a50" fill="none"/>
<rect x="252.37" y="52.22" width="6.00" height="6.00" stroke="#f05a50" fill="none"/>
<rect x="255.78" y="49.84" width="6.00" height="6.00" stroke="#f05a50" fill="none"/>
<rect x="259.18" y="47.52" width="6.00" height="6.00" stroke="#f05a50" fill="none"/>
<rect x="262.59" y="45.24" width="6.00" height="6.00" stroke="#f05a50" fill="none"/>
<rect x="266.00" y="43.00" width="6.00" height="6.00" stroke="#f05a50" fill="none"/>
<rect x="194.70" y="91.50" width="6.00" height="6.00" stroke="#e8141c" fill="#e8141c"/>
<rect x="235.00" y="64.40" width="6.00" height="6.00" stroke="#e8141c" fill="#e8141c"/>
<path d="M142.00 164.90L145.10 170.50L138.90 170.50Z" stroke="#5050c8" fill="none"/>
<path d="M145.42 161.41L148.52 167.01L142.32 167.01Z" stroke="#5050c8" fill="none"/>
<path d="M148.84 157.88L151.94 163.48L145.74 163.48Z" stroke="#5050c8" fill="none"/>
<path d="M152.26 154.30L155.36 159.90L149.16 159.90Z" stroke="#5050c8" fill="none"/>
<path d="M155.67 150.68L158.77 156.28L152.57 156.28Z" stroke="#5050c8" fill="none"/>
<path d="M159.09 147.02L162.19 152.62L155.99 152.62Z" stroke="#5050c8" fill="none"/>
<path d="M162.51 143.32L165.61 148.92L159.41 148.92Z" stroke="#5050c8" fill="none"/>
<path d="M165.93 139.58L169.03 145.18L162.83 145.18Z" stroke="#5050c8" fill="none"/>
<path d="M169.35 135.73L172.45 141.33L166.25 141.33Z" stroke="#5050c8" fill="none"/>
<path d="M172.77 131.75L175.87 137.35L169.67 137.35Z" stroke="#5050c8" fill="none"/>
<path d="M176.19 127.70L179.29 133.30L173.09 133.30Z" stroke="#5050c8" fill="none"/>
<path d="M179.60 123.66L182.70 129.26L176.50 129.26Z" stroke="#5050c8" fill="none"/>
<path d="M183.02 119.67L186.12 125.27L179.92 125.27Z" stroke="#5050c8" fill="none"/>
<path d="M186.44 115.81L189.54 121.41L183.34 121.41Z" stroke="#5050c8" fill="none"/>
<path d="M189.86 112.14L192.96 117.74L186.76 117.74Z" stroke="#5050c8" fill="none"/>
<path d="M193.28 108.69L196.38 114.29L190.18 114.29Z" stroke="#5050c8" fill="none"/>
<path d="M196.70 105.39L199.80 110.99L193.60 110.99Z" stroke="#5050c8" fill="none"/>
<path d="M200.12 102.24L203.22 107.84L197.02 107.84Z" stroke="#5050c8" fill="none"/>
<path d="M203.53 99.18L206.63 104.78L200.43 104.78Z" stroke="#5050c8" fill="none"/>
<path d="M206.95 96.19L210.05 101.79L203.85 101.79Z" stroke="#5050c8" fill="none"/>
<path d="M210.37 93.25L213.47 98.85L207.27 98.85Z" stroke="#5050c8" fill="none"/>
<path d="M213.79 90.36L216.89 95.96L210.69 95.96Z" stroke="#5050c8" fill="none"/>
<path d="M217.21 87.51L220.31 93.11L214.11 93.11Z" stroke="#5050c8" fill="none"/>
<path d="M220.63 84.72L223.73 90.32L217.53 90.32Z" stroke="#5050c8" fill="none"/>
<path d="M224.05 81.96L227.15 87.56L220.95 87.56Z" stroke="#5050c8" fill="none"/>
<path d="M227.47 79.23L230.57 84.83L224.37 84.83Z" stroke="#5050c8" fill="none"/>
<path d="M230.88 76.54L233.98 82.14L227.78 82.14Z" stroke="#5050c8" fill="none"/>
<path d="M234.30 73.88L237.40 79.48L231.20 79.48Z" stroke="#5050c8" fill="none"/>
<path d="M237.72 71.24L240.82 76.84L234.62 76.84Z" stroke="#5050c8" fill="none"/>
<path d="M241.14 68.63L244.24 74.23L238.04 74.23Z" stroke="#5050c8" fill="none"/>
<path d="M244.56 66.05L247.66 71.65L241.46 71.65Z" stroke="#5050c8" fill="none"/>
<path d="M247.98 63.57L251.08 69.17L244.88 69.17Z" stroke="#5050c8" fill="none"/>
<path d="M251.40 61.30L254.50 66.90L248.30 66.90Z" stroke="#5050c8" fill="none"/>
<path d="M254.81 59.24L257.91 64.84L251.71 64.84Z" stroke="#5050c8" fill="none"/>
<path d="M258.23 57.25L261.33 62.85L255.13 62.85Z" stroke="#5050c8" fill="none"/>
<path d="M261.65 55.20L264.75 60.80L258.55 60.80Z" stroke="#5050c8" fill="none"/>
<path d="M265.07 53.12L268.17 58.72L261.97 58.72Z" stroke="#5050c8" fill="none"/>
<path d="M268.49 51.07L271.59 56.67L265.39 56.67Z" stroke="#5050c8" fill="none"/>
<path d="M271.91 49.12L275.01 54.72L268.81 54.72Z" stroke="#5050c8" fill="none"/>
<path d="M275.33 47.24L278.43 52.84L272.23 52.84Z" stroke="#5050c8" fill="none"/>
<path d="M278.74 45.44L281.84 51.04L275.64 51.04Z" stroke="#5050c8" fill="none"/>
<path d="M282.16 43.74L285.26 49.34L279.06 49.34Z" stroke="#5050c8" fill="none"/>
<path d="M285.58 42.12L288.68 47.72L282.48 47.72Z" stroke="#5050c8" fill="none"/>
<path d="M289.00 40.60L292.10 46.20L285.90 46.20Z" stroke="#5050c8" fill="none"/>
<path d="M200.60 101.80L203.70 107.40L197.50 107.40Z" stroke="#2020b0" fill="#2020b0"/>
<path d="M241.70 68.20L244.80 73.80L238.60 73.80Z" stroke="#2020b0" fill="#2020b0"/>
<circle cx="144.60" cy="172.00" r="3.25" stroke="#36985a" fill="none"/>
<circle cx="147.97" cy="168.86" r="3.25" stroke="#36985a" fill="none"/>
<circle cx="151.34" cy="165.67" r="3.25" stroke="#36985a" fill="none"/>
<circle cx="154.71" cy="162.44" r="3.25" stroke="#36985a" fill="none"/>
<circle cx="158.08" cy="159.17" r="3.25" stroke="#36985a" fill="none"/>
<circle cx="161.45" cy="155.86" r="3.25" stroke="#36985a" fill="none"/>
<circle cx="164.82" cy="152.50" r="3.25" stroke="#36985a" fill="none"/>
<circle cx="168.18" cy="149.10" r="3.25" stroke="#36985a" fill="none"/>
<circle cx="171.55" cy="145.66" r="3.25" stroke="#36985a" fill="none"/>
<circle cx="174.92" cy="142.17" r="3.25" stroke="#36985a" fill="none"/>
<circle cx="178.29" cy="138.64" r="3.25" stroke="#36985a" fill="none"/>
<circle cx="181.66" cy="135.06" r="3.25" stroke="#36985a" fill="none"/>
<circle cx="185.03" cy="131.43" r="3.25" stroke="#36985a" fill="none"/>
<circle cx="188.40" cy="127.76" r="3.25" stroke="#36985a" fill="none"/>
<circle cx="191.77" cy="124.01" r="3.25" stroke="#36985a" fill="none"/>
<circle cx="195.14" cy="120.04" r="3.25" stroke="#36985a" fill="none"/>
<circle cx="198.51" cy="115.99" r="3.25" stroke="#36985a" fill="none"/>
<circle cx="201.88" cy="112.00" r="3.25" stroke="#36985a" fill="none"/>
<circle cx="205.25" cy="108.23" r="3.25" stroke="#36985a" fill="none"/>
<circle cx="208.62" cy="104.81" r="3.25" stroke="#36985a" fill="none"/>
<circle cx="211.98" cy="101.65" r="3.25" stroke="#36985a" fill="none"/>
<circle cx="215.35" cy="98.65" r="3.25" stroke="#36985a" fill="none"/>
<circle cx="218.72" cy="95.78" r="3.25" stroke="#36985a" fill="none"/>
<circle cx="222.09" cy="92.99" r="3.25" stroke="#36985a" fill="none"/>
<circle cx="225.46" cy="90.23" r="3.25" stroke="#36985a" fill="none"/>
<circle cx="228.83" cy="87.47" r="3.25" stroke="#36985a" fill="none"/>
<circle cx="232.20" cy="84.67" r="3.25" stroke="#36985a" fill="none"/>
<circle cx="235.57" cy="81.88" r="3.25" stroke="#36985a" fill="none"/>
<circle cx="238.94" cy="79.13" r="3.25" stroke="#36985a" fill="none"/>
<circle cx="242.31" cy="76.42" r="3.25" stroke="#36985a" fill="none"/>
<circle cx="245.68" cy="73.78" r="3.25" stroke="#36985a" fill="none"/>
<circle cx="249.05" cy="71.22" r="3.25" stroke="#36985a" fill="none"/>
<circle cx="252.42" cy="68.76" r="3.25" stroke="#36985a" fill="none"/>
<circle cx="255.78" cy="66.38" r="3.25" stroke="#36985a" fill="none"/>
<circle cx="259.15" cy="64.01" r="3.25" stroke="#36985a" fill="none"/>
<circle cx="262.52" cy="61.63" r="3.25" stroke="#36985a" fill="none"/>
<circle cx="265.89" cy="59.22" r="3.25" stroke="#36985a" fill="none"/>
<circle cx="269.26" cy="56.81" r="3.25" stroke="#36985a" fill="none"/>
<circle cx="272.63" cy="54.41" r="3.25" stroke="#36985a" fill="none"/>
<circle cx="276.00" cy="52.00" r="3.25" stroke="#36985a" fill="none"/>
<circle cx="207.40" cy="106.00" r="3.25" stroke="#057a36" fill="#057a36"/>
<circle cx="248.00" cy="72.00" r="3.25" stroke="#057a36" fill="#057a36"/>
</g>
<clipPath id="c1"><rect x="53.5" y="212.5" width="283.99" height="157.5"/></clipPath>
<g clip-path="url(#c1)" stroke-width="0.85">
<rect x="109.00" y="363.50" width="6.00" height="6.00" stroke="#f05a50" fill="none"/>
<rect x="112.39" y="359.86" width="6.00" height="6.00" stroke="#f05a50" fill="none"/>
<rect x="115.79" y="356.30" width="6.00" height="6.00" stroke="#f05a50" fill="none"/>
<rect x="119.18" y="352.82" width="6.00" height="6.00" stroke="#f05a50" fill="none"/>
<rect x="122.58" y="349.43" width="6.00" height="6.00" stroke="#f05a50" fill="none"/>
<rect x="125.97" y="346.13" width="6.00" height="6.00" stroke="#f05a50" fill="none"/>
<rect x="129.37" y="342.91" width="6.00" height="6.00" stroke="#f05a50" fill="none"/>
<rect x="132.76" y="339.74" width="6.00" height="6.00" stroke="#f05a50" fill="none"/>
<rect x="136.16" y="336.58" width="6.00" height="6.00" stroke="#f05a50" fill="none"/>
<rect x="139.55" y="333.40" width="6.00" height="6.00" stroke="#f05a50" fill="none"/>
<rect x="142.95" y="330.16" width="6.00" height="6.00" stroke="#f05a50" fill="none"/>
<rect x="146.34" y="326.93" width="6.00" height="6.00" stroke="#f05a50" fill="none"/>
<rect x="149.74" y="323.74" width="6.00" height="6.00" stroke="#f05a50" fill="none"/>
<rect x="153.13" y="320.65" width="6.00" height="6.00" stroke="#f05a50" fill="none"/>
<rect x="156.53" y="317.70" width="6.00" height="6.00" stroke="#f05a50" fill="none"/>
<rect x="159.92" y="314.96" width="6.00" height="6.00" stroke="#f05a50" fill="none"/>
<rect x="163.32" y="312.40" width="6.00" height="6.00" stroke="#f05a50" fill="none"/>
<rect x="166.71" y="309.98" width="6.00" height="6.00" stroke="#f05a50" fill="none"/>
<rect x="170.11" y="307.62" width="6.00" height="6.00" stroke="#f05a50" fill="none"/>
<rect x="173.50" y="305.27" width="6.00" height="6.00" stroke="#f05a50" fill="none"/>
<rect x="176.89" y="302.86" width="6.00" height="6.00" stroke="#f05a50" fill="none"/>
<rect x="180.29" y="300.40" width="6.00" height="6.00" stroke="#f05a50" fill="none"/>
<rect x="183.68" y="297.93" width="6.00" height="6.00" stroke="#f05a50" fill="none"/>
<rect x="187.08" y="295.47" width="6.00" height="6.00" stroke="#f05a50" fill="none"/>
<rect x="190.47" y="293.03" width="6.00" height="6.00" stroke="#f05a50" fill="none"/>
<rect x="193.87" y="290.64" width="6.00" height="6.00" stroke="#f05a50" fill="none"/>
<rect x="197.26" y="288.32" width="6.00" height="6.00" stroke="#f05a50" fill="none"/>
<rect x="200.66" y="286.06" width="6.00" height="6.00" stroke="#f05a50" fill="none"/>
<rect x="204.05" y="283.84" width="6.00" height="6.00" stroke="#f05a50" fill="none"/>
<rect x="207.45" y="281.66" width="6.00" height="6.00" stroke="#f05a50" fill="none"/>
<rect x="210.84" y="279.52" width="6.00" height="6.00" stroke="#f05a50" fill="none"/>
<rect x="214.24" y="277.41" width="6.00" height="6.00" stroke="#f05a50" fill="none"/>
<rect x="217.63" y="275.33" width="6.00" height="6.00" stroke="#f05a50" fill="none"/>
<rect x="221.03" y="273.28" width="6.00" height="6.00" stroke="#f05a50" fill="none"/>
<rect x="224.42" y="271.26" width="6.00" height="6.00" stroke="#f05a50" fill="none"/>
<rect x="227.82" y="269.27" width="6.00" height="6.00" stroke="#f05a50" fill="none"/>
<rect x="231.21" y="267.31" width="6.00" height="6.00" stroke="#f05a50" fill="none"/>
<rect x="234.61" y="265.39" width="6.00" height="6.00" stroke="#f05a50" fill="none"/>
<rect x="238.00" y="263.50" width="6.00" height="6.00" stroke="#f05a50" fill="none"/>
<rect x="176.00" y="303.50" width="6.00" height="6.00" stroke="#e8141c" fill="#e8141c"/>
<rect x="219.00" y="274.50" width="6.00" height="6.00" stroke="#e8141c" fill="#e8141c"/>
<path d="M114.00 365.00L117.10 370.60L110.90 370.60Z" stroke="#5050c8" fill="none"/>
<path d="M117.44 361.46L120.54 367.06L114.34 367.06Z" stroke="#5050c8" fill="none"/>
<path d="M120.87 357.93L123.97 363.53L117.77 363.53Z" stroke="#5050c8" fill="none"/>
<path d="M124.31 354.43L127.41 360.03L121.21 360.03Z" stroke="#5050c8" fill="none"/>
<path d="M127.74 350.95L130.84 356.55L124.64 356.55Z" stroke="#5050c8" fill="none"/>
<path d="M131.18 347.47L134.28 353.07L128.08 353.07Z" stroke="#5050c8" fill="none"/>
<path d="M134.62 344.01L137.72 349.61L131.52 349.61Z" stroke="#5050c8" fill="none"/>
<path d="M138.05 340.60L141.15 346.20L134.95 346.20Z" stroke="#5050c8" fill="none"/>
<path d="M141.49 337.26L144.59 342.86L138.39 342.86Z" stroke="#5050c8" fill="none"/>
<path d="M144.92 333.91L148.02 339.51L141.82 339.51Z" stroke="#5050c8" fill="none"/>
<path d="M148.36 330.58L151.46 336.18L145.26 336.18Z" stroke="#5050c8" fill="none"/>
<path d="M151.79 327.29L154.89 332.89L148.69 332.89Z" stroke="#5050c8" fill="none"/>
<path d="M155.23 324.07L158.33 329.67L152.13 329.67Z" stroke="#5050c8" fill="none"/>
<path d="M158.67 320.95L161.77 326.55L155.57 326.55Z" stroke="#5050c8" fill="none"/>
<path d="M162.10 317.96L165.20 323.56L159.00 323.56Z" stroke="#5050c8" fill="none"/>
<path d="M165.54 315.12L168.64 320.72L162.44 320.72Z" stroke="#5050c8" fill="none"/>
<path d="M168.97 312.43L172.07 318.03L165.87 318.03Z" stroke="#5050c8" fill="none"/>
<path d="M172.41 309.83L175.51 315.43L169.31 315.43Z" stroke="#5050c8" fill="none"/>
<path d="M175.85 307.28L178.95 312.88L172.75 312.88Z" stroke="#5050c8" fill="none"/>
<path d="M179.28 304.75L182.38 310.35L176.18 310.35Z" stroke="#5050c8" fill="none"/>
<path d="M182.72 302.20L185.82 307.80L179.62 307.80Z" stroke="#5050c8" fill="none"/>
<path d="M186.15 299.64L189.25 305.24L183.05 305.24Z" stroke="#5050c8" fill="none"/>
<path d="M189.59 297.09L192.69 302.69L186.49 302.69Z" stroke="#5050c8" fill="none"/>
<path d="M193.03 294.59L196.13 300.19L189.93 300.19Z" stroke="#5050c8" fill="none"/>
<path d="M196.46 292.14L199.56 297.74L193.36 297.74Z" stroke="#5050c8" fill="none"/>
<path d="M199.90 289.77L203.00 295.37L196.80 295.37Z" stroke="#5050c8" fill="none"/>
<path d="M203.33 287.50L206.43 293.10L200.23 293.10Z" stroke="#5050c8" fill="none"/>
<path d="M206.77 285.31L209.87 290.91L203.67 290.91Z" stroke="#5050c8" fill="none"/>
<path d="M210.21 283.18L213.31 288.78L207.11 288.78Z" stroke="#5050c8" fill="none"/>
<path d="M213.64 281.07L216.74 286.67L210.54 286.67Z" stroke="#5050c8" fill="none"/>
<path d="M217.08 278.96L220.18 284.56L213.98 284.56Z" stroke="#5050c8" fill="none"/>
<path d="M220.51 276.80L223.61 282.40L217.41 282.40Z" stroke="#5050c8" fill="none"/>
<path d="M223.95 274.58L227.05 280.18L220.85 280.18Z" stroke="#5050c8" fill="none"/>
<path d="M227.38 272.31L230.48 277.91L224.28 277.91Z" stroke="#5050c8" fill="none"/>
<path d="M230.82 270.02L233.92 275.62L227.72 275.62Z" stroke="#5050c8" fill="none"/>
<path d="M234.26 267.71L237.36 273.31L231.16 273.31Z" stroke="#5050c8" fill="none"/>
<path d="M237.69 265.37L240.79 270.97L234.59 270.97Z" stroke="#5050c8" fill="none"/>
<path d="M241.13 263.00L244.23 268.60L238.03 268.60Z" stroke="#5050c8" fill="none"/>
<path d="M244.56 260.61L247.66 266.21L241.46 266.21Z" stroke="#5050c8" fill="none"/>
<path d="M248.00 258.20L251.10 263.80L244.90 263.80Z" stroke="#5050c8" fill="none"/>
<path d="M180.70 303.70L183.80 309.30L177.60 309.30Z" stroke="#2020b0" fill="#2020b0"/>
<path d="M223.00 275.20L226.10 280.80L219.90 280.80Z" stroke="#2020b0" fill="#2020b0"/>
<circle cx="122.10" cy="364.40" r="3.25" stroke="#36985a" fill="none"/>
<circle cx="125.47" cy="360.95" r="3.25" stroke="#36985a" fill="none"/>
<circle cx="128.84" cy="357.62" r="3.25" stroke="#36985a" fill="none"/>
<circle cx="132.21" cy="354.43" r="3.25" stroke="#36985a" fill="none"/>
<circle cx="135.58" cy="351.37" r="3.25" stroke="#36985a" fill="none"/>
<circle cx="138.95" cy="348.35" r="3.25" stroke="#36985a" fill="none"/>
<circle cx="142.32" cy="345.31" r="3.25" stroke="#36985a" fill="none"/>
<circle cx="145.68" cy="342.29" r="3.25" stroke="#36985a" fill="none"/>
<circle cx="149.05" cy="339.29" r="3.25" stroke="#36985a" fill="none"/>
<circle cx="152.42" cy="336.28" r="3.25" stroke="#36985a" fill="none"/>
<circle cx="155.79" cy="333.28" r="3.25" stroke="#36985a" fill="none"/>
<circle cx="159.16" cy="330.26" r="3.25" stroke="#36985a" fill="none"/>
<circle cx="162.53" cy="327.22" r="3.25" stroke="#36985a" fill="none"/>
<circle cx="165.90" cy="324.14" r="3.25" stroke="#36985a" fill="none"/>
<circle cx="169.27" cy="320.95" r="3.25" stroke="#36985a" fill="none"/>
<circle cx="172.64" cy="317.71" r="3.25" stroke="#36985a" fill="none"/>
<circle cx="176.01" cy="314.49" r="3.25" stroke="#36985a" fill="none"/>
<circle cx="179.38" cy="311.37" r="3.25" stroke="#36985a" fill="none"/>
<circle cx="182.75" cy="308.43" r="3.25" stroke="#36985a" fill="none"/>
<circle cx="186.12" cy="305.74" r="3.25" stroke="#36985a" fill="none"/>
<circle cx="189.48" cy="303.27" r="3.25" stroke="#36985a" fill="none"/>
<circle cx="192.85" cy="300.93" r="3.25" stroke="#36985a" fill="none"/>
<circle cx="196.22" cy="298.66" r="3.25" stroke="#36985a" fill="none"/>
<circle cx="199.59" cy="296.39" r="3.25" stroke="#36985a" fill="none"/>
<circle cx="202.96" cy="294.03" r="3.25" stroke="#36985a" fill="none"/>
<circle cx="206.33" cy="291.58" r="3.25" stroke="#36985a" fill="none"/>
<circle cx="209.70" cy="289.10" r="3.25" stroke="#36985a" fill="none"/>
<circle cx="213.07" cy="286.59" r="3.25" stroke="#36985a" fill="none"/>
<circle cx="216.44" cy="284.08" r="3.25" stroke="#36985a" fill="none"/>
<circle cx="219.81" cy="281.58" r="3.25" stroke="#36985a" fill="none"/>
<circle cx="223.18" cy="279.10" r="3.25" stroke="#36985a" fill="none"/>
<circle cx="226.55" cy="276.65" r="3.25" stroke="#36985a" fill="none"/>
<circle cx="229.92" cy="274.21" r="3.25" stroke="#36985a" fill="none"/>
<circle cx="233.28" cy="271.78" r="3.25" stroke="#36985a" fill="none"/>
<circle cx="236.65" cy="269.36" r="3.25" stroke="#36985a" fill="none"/>
<circle cx="240.02" cy="266.95" r="3.25" stroke="#36985a" fill="none"/>
<circle cx="243.39" cy="264.54" r="3.25" stroke="#36985a" fill="none"/>
<circle cx="246.76" cy="262.15" r="3.25" stroke="#36985a" fill="none"/>
<circle cx="250.13" cy="259.77" r="3.25" stroke="#36985a" fill="none"/>
<circle cx="253.50" cy="257.40" r="3.25" stroke="#36985a" fill="none"/>
<circle cx="184.50" cy="307.00" r="3.25" stroke="#057a36" fill="#057a36"/>
<circle cx="224.00" cy="278.50" r="3.25" stroke="#057a36" fill="#057a36"/>
</g>
<clipPath id="c2"><rect x="53.5" y="407.5" width="283.99" height="157.5"/></clipPath>
<g clip-path="url(#c2)" stroke-width="0.85">
<rect x="115.60" y="540.70" width="6.00" height="6.00" stroke="#f05a50" fill="none"/>
<rect x="119.58" y="537.38" width="6.00" height="6.00" stroke="#f05a50" fill="none"/>
<rect x="123.57" y="534.84" width="6.00" height="6.00" stroke="#f05a50" fill="none"/>
<rect x="127.55" y="532.66" width="6.00" height="6.00" stroke="#f05a50" fill="none"/>
<rect x="131.53" y="530.76" width="6.00" height="6.00" stroke="#f05a50" fill="none"/>
<rect x="135.52" y="529.21" width="6.00" height="6.00" stroke="#f05a50" fill="none"/>
<rect x="139.50" y="527.80" width="6.00" height="6.00" stroke="#f05a50" fill="none"/>
<rect x="143.48" y="526.19" width="6.00" height="6.00" stroke="#f05a50" fill="none"/>
<rect x="147.47" y="524.14" width="6.00" height="6.00" stroke="#f05a50" fill="none"/>
<rect x="151.45" y="521.74" width="6.00" height="6.00" stroke="#f05a50" fill="none"/>
<rect x="155.43" y="519.26" width="6.00" height="6.00" stroke="#f05a50" fill="none"/>
<rect x="159.42" y="516.89" width="6.00" height="6.00" stroke="#f05a50" fill="none"/>
<rect x="163.40" y="514.51" width="6.00" height="6.00" stroke="#f05a50" fill="none"/>
<rect x="167.38" y="512.08" width="6.00" height="6.00" stroke="#f05a50" fill="none"/>
<rect x="171.37" y="509.58" width="6.00" height="6.00" stroke="#f05a50" fill="none"/>
<rect x="175.35" y="507.04" width="6.00" height="6.00" stroke="#f05a50" fill="none"/>
<rect x="179.33" y="504.47" width="6.00" height="6.00" stroke="#f05a50" fill="none"/>
<rect x="183.32" y="501.87" width="6.00" height="6.00" stroke="#f05a50" fill="none"/>
<rect x="187.30" y="499.25" width="6.00" height="6.00" stroke="#f05a50" fill="none"/>
<rect x="191.28" y="496.63" width="6.00" height="6.00" stroke="#f05a50" fill="none"/>
<rect x="195.27" y="494.02" width="6.00" height="6.00" stroke="#f05a50" fill="none"/>
<rect x="199.25" y="491.42" width="6.00" height="6.00" stroke="#f05a50" fill="none"/>
<rect x="203.23" y="488.85" width="6.00" height="6.00" stroke="#f05a50" fill="none"/>
<rect x="207.22" y="486.31" width="6.00" height="6.00" stroke="#f05a50" fill="none"/>
<rect x="211.20" y="483.83" width="6.00" height="6.00" stroke="#f05a50" fill="none"/>
<rect x="215.18" y="481.44" width="6.00" height="6.00" stroke="#f05a50" fill="none"/>
<rect x="219.17" y="479.12" width="6.00" height="6.00" stroke="#f05a50" fill="none"/>
<rect x="223.15" y="476.84" width="6.00" height="6.00" stroke="#f05a50" fill="none"/>
<rect x="227.13" y="474.56" width="6.00" height="6.00" stroke="#f05a50" fill="none"/>
<rect x="231.12" y="472.25" width="6.00" height="6.00" stroke="#f05a50" fill="none"/>
<rect x="235.10" y="469.89" width="6.00" height="6.00" stroke="#f05a50" fill="none"/>
<rect x="239.08" y="467.45" width="6.00" height="6.00" stroke="#f05a50" fill="none"/>
<rect x="243.07" y="464.89" width="6.00" height="6.00" stroke="#f05a50" fill="none"/>
<rect x="247.05" y="462.18" width="6.00" height="6.00" stroke="#f05a50" fill="none"/>
<rect x="251.03" y="459.27" width="6.00" height="6.00" stroke="#f05a50" fill="none"/>
<rect x="255.02" y="455.98" width="6.00" height="6.00" stroke="#f05a50" fill="none"/>
<rect x="259.00" y="452.50" width="6.00" height="6.00" stroke="#f05a50" fill="none"/>
<rect x="166.70" y="512.50" width="6.00" height="6.00" stroke="#e8141c" fill="#e8141c"/>
<rect x="208.50" y="485.50" width="6.00" height="6.00" stroke="#e8141c" fill="#e8141c"/>
<rect x="249.90" y="460.13" width="6.00" height="6.00" stroke="#e8141c" fill="#e8141c"/>
<path d="M118.60 546.20L121.70 551.80L115.50 551.80Z" stroke="#5050c8" fill="none"/>
<path d="M122.64 542.19L125.74 547.79L119.54 547.79Z" stroke="#5050c8" fill="none"/>
<path d="M126.68 539.44L129.78 545.04L123.58 545.04Z" stroke="#5050c8" fill="none"/>
<path d="M130.72 536.73L133.82 542.33L127.62 542.33Z" stroke="#5050c8" fill="none"/>
<path d="M134.76 534.27L137.86 539.87L131.66 539.87Z" stroke="#5050c8" fill="none"/>
<path d="M138.79 532.21L141.89 537.81L135.69 537.81Z" stroke="#5050c8" fill="none"/>
<path d="M142.83 530.29L145.93 535.89L139.73 535.89Z" stroke="#5050c8" fill="none"/>
<path d="M146.87 528.22L149.97 533.82L143.77 533.82Z" stroke="#5050c8" fill="none"/>
<path d="M150.91 525.83L154.01 531.43L147.81 531.43Z" stroke="#5050c8" fill="none"/>
<path d="M154.95 523.27L158.05 528.87L151.85 528.87Z" stroke="#5050c8" fill="none"/>
<path d="M158.99 520.66L162.09 526.26L155.89 526.26Z" stroke="#5050c8" fill="none"/>
<path d="M163.03 518.05L166.13 523.65L159.93 523.65Z" stroke="#5050c8" fill="none"/>
<path d="M167.07 515.42L170.17 521.02L163.97 521.02Z" stroke="#5050c8" fill="none"/>
<path d="M171.11 512.79L174.21 518.39L168.01 518.39Z" stroke="#5050c8" fill="none"/>
<path d="M175.14 510.17L178.24 515.77L172.04 515.77Z" stroke="#5050c8" fill="none"/>
<path d="M179.18 507.55L182.28 513.15L176.08 513.15Z" stroke="#5050c8" fill="none"/>
<path d="M183.22 504.92L186.32 510.52L180.12 510.52Z" stroke="#5050c8" fill="none"/>
<path d="M187.26 502.30L190.36 507.90L184.16 507.90Z" stroke="#5050c8" fill="none"/>
<path d="M191.30 499.69L194.40 505.29L188.20 505.29Z" stroke="#5050c8" fill="none"/>
<path d="M195.34 497.08L198.44 502.68L192.24 502.68Z" stroke="#5050c8" fill="none"/>
<path d="M199.38 494.47L202.48 500.07L196.28 500.07Z" stroke="#5050c8" fill="none"/>
<path d="M203.42 491.87L206.52 497.47L200.32 497.47Z" stroke="#5050c8" fill="none"/>
<path d="M207.46 489.28L210.56 494.88L204.36 494.88Z" stroke="#5050c8" fill="none"/>
<path d="M211.49 486.70L214.59 492.30L208.39 492.30Z" stroke="#5050c8" fill="none"/>
<path d="M215.53 484.15L218.63 489.75L212.43 489.75Z" stroke="#5050c8" fill="none"/>
<path d="M219.57 481.65L222.67 487.25L216.47 487.25Z" stroke="#5050c8" fill="none"/>
<path d="M223.61 479.16L226.71 484.76L220.51 484.76Z" stroke="#5050c8" fill="none"/>
<path d="M227.65 476.69L230.75 482.29L224.55 482.29Z" stroke="#5050c8" fill="none"/>
<path d="M231.69 474.22L234.79 479.82L228.59 479.82Z" stroke="#5050c8" fill="none"/>
<path d="M235.73 471.73L238.83 477.33L232.63 477.33Z" stroke="#5050c8" fill="none"/>
<path d="M239.77 469.21L242.87 474.81L236.67 474.81Z" stroke="#5050c8" fill="none"/>
<path d="M243.81 466.65L246.91 472.25L240.71 472.25Z" stroke="#5050c8" fill="none"/>
<path d="M247.84 464.03L250.94 469.63L244.74 469.63Z" stroke="#5050c8" fill="none"/>
<path d="M251.88 461.35L254.98 466.95L248.78 466.95Z" stroke="#5050c8" fill="none"/>
<path d="M255.92 458.56L259.02 464.16L252.82 464.16Z" stroke="#5050c8" fill="none"/>
<path d="M259.96 455.66L263.06 461.26L256.86 461.26Z" stroke="#5050c8" fill="none"/>
<path d="M264.00 452.70L267.10 458.30L260.90 458.30Z" stroke="#5050c8" fill="none"/>
<path d="M169.70 513.70L172.80 519.30L166.60 519.30Z" stroke="#2020b0" fill="#2020b0"/>
<path d="M211.50 486.70L214.60 492.30L208.40 492.30Z" stroke="#2020b0" fill="#2020b0"/>
<path d="M252.40 461.00L255.50 466.60L249.30 466.60Z" stroke="#2020b0" fill="#2020b0"/>
<circle cx="119.40" cy="553.20" r="3.25" stroke="#36985a" fill="none"/>
<circle cx="123.36" cy="547.35" r="3.25" stroke="#36985a" fill="none"/>
<circle cx="127.32" cy="544.01" r="3.25" stroke="#36985a" fill="none"/>
<circle cx="131.29" cy="541.40" r="3.25" stroke="#36985a" fill="none"/>
<circle cx="135.25" cy="539.24" r="3.25" stroke="#36985a" fill="none"/>
<circle cx="139.21" cy="537.48" r="3.25" stroke="#36985a" fill="none"/>
<circle cx="143.17" cy="535.75" r="3.25" stroke="#36985a" fill="none"/>
<circle cx="147.14" cy="533.63" r="3.25" stroke="#36985a" fill="none"/>
<circle cx="151.10" cy="530.96" r="3.25" stroke="#36985a" fill="none"/>
<circle cx="155.06" cy="527.99" r="3.25" stroke="#36985a" fill="none"/>
<circle cx="159.02" cy="524.99" r="3.25" stroke="#36985a" fill="none"/>
<circle cx="162.98" cy="522.09" r="3.25" stroke="#36985a" fill="none"/>
<circle cx="166.95" cy="519.17" r="3.25" stroke="#36985a" fill="none"/>
<circle cx="170.91" cy="516.36" r="3.25" stroke="#36985a" fill="none"/>
<circle cx="174.87" cy="513.65" r="3.25" stroke="#36985a" fill="none"/>
<circle cx="178.83" cy="510.99" r="3.25" stroke="#36985a" fill="none"/>
<circle cx="182.79" cy="508.37" r="3.25" stroke="#36985a" fill="none"/>
<circle cx="186.76" cy="505.79" r="3.25" stroke="#36985a" fill="none"/>
<circle cx="190.72" cy="503.23" r="3.25" stroke="#36985a" fill="none"/>
<circle cx="194.68" cy="500.70" r="3.25" stroke="#36985a" fill="none"/>
<circle cx="198.64" cy="498.18" r="3.25" stroke="#36985a" fill="none"/>
<circle cx="202.61" cy="495.66" r="3.25" stroke="#36985a" fill="none"/>
<circle cx="206.57" cy="493.15" r="3.25" stroke="#36985a" fill="none"/>
<circle cx="210.53" cy="490.62" r="3.25" stroke="#36985a" fill="none"/>
<circle cx="214.49" cy="488.09" r="3.25" stroke="#36985a" fill="none"/>
<circle cx="218.45" cy="485.59" r="3.25" stroke="#36985a" fill="none"/>
<circle cx="222.42" cy="483.11" r="3.25" stroke="#36985a" fill="none"/>
<circle cx="226.38" cy="480.64" r="3.25" stroke="#36985a" fill="none"/>
<circle cx="230.34" cy="478.18" r="3.25" stroke="#36985a" fill="none"/>
<circle cx="234.30" cy="475.72" r="3.25" stroke="#36985a" fill="none"/>
<circle cx="238.26" cy="473.24" r="3.25" stroke="#36985a" fill="none"/>
<circle cx="242.23" cy="470.75" r="3.25" stroke="#36985a" fill="none"/>
<circle cx="246.19" cy="468.23" r="3.25" stroke="#36985a" fill="none"/>
<circle cx="250.15" cy="465.67" r="3.25" stroke="#36985a" fill="none"/>
<circle cx="254.11" cy="463.07" r="3.25" stroke="#36985a" fill="none"/>
<circle cx="258.08" cy="460.41" r="3.25" stroke="#36985a" fill="none"/>
<circle cx="262.04" cy="457.72" r="3.25" stroke="#36985a" fill="none"/>
<circle cx="266.00" cy="455.00" r="3.25" stroke="#36985a" fill="none"/>
<circle cx="169.70" cy="517.20" r="3.25" stroke="#057a36" fill="#057a36"/>
<circle cx="211.50" cy="490.00" r="3.25" stroke="#057a36" fill="#057a36"/>
<circle cx="251.40" cy="464.86" r="3.25" stroke="#057a36" fill="#057a36"/>
</g>
<clipPath id="c3"><rect x="53.5" y="602.5" width="283.99" height="157.5"/></clipPath>
<g clip-path="url(#c3)" stroke-width="0.85">
<rect x="97.50" y="748.00" width="6.00" height="6.00" stroke="#f05a50" fill="none"/>
<rect x="101.33" y="744.74" width="6.00" height="6.00" stroke="#f05a50" fill="none"/>
<rect x="105.17" y="741.89" width="6.00" height="6.00" stroke="#f05a50" fill="none"/>
<rect x="109.00" y="739.52" width="6.00" height="6.00" stroke="#f05a50" fill="none"/>
<rect x="112.83" y="737.25" width="6.00" height="6.00" stroke="#f05a50" fill="none"/>
<rect x="116.67" y="734.77" width="6.00" height="6.00" stroke="#f05a50" fill="none"/>
<rect x="120.50" y="732.38" width="6.00" height="6.00" stroke="#f05a50" fill="none"/>
<rect x="124.33" y="730.29" width="6.00" height="6.00" stroke="#f05a50" fill="none"/>
<rect x="128.17" y="728.31" width="6.00" height="6.00" stroke="#f05a50" fill="none"/>
<rect x="132.00" y="726.47" width="6.00" height="6.00" stroke="#f05a50" fill="none"/>
<rect x="135.83" y="724.53" width="6.00" height="6.00" stroke="#f05a50" fill="none"/>
<rect x="139.67" y="722.24" width="6.00" height="6.00" stroke="#f05a50" fill="none"/>
<rect x="143.50" y="719.73" width="6.00" height="6.00" stroke="#f05a50" fill="none"/>
<rect x="147.33" y="717.16" width="6.00" height="6.00" stroke="#f05a50" fill="none"/>
<rect x="151.17" y="714.24" width="6.00" height="6.00" stroke="#f05a50" fill="none"/>
<rect x="155.00" y="710.59" width="6.00" height="6.00" stroke="#f05a50" fill="none"/>
<rect x="158.83" y="707.75" width="6.00" height="6.00" stroke="#f05a50" fill="none"/>
<rect x="162.67" y="705.15" width="6.00" height="6.00" stroke="#f05a50" fill="none"/>
<rect x="166.50" y="702.73" width="6.00" height="6.00" stroke="#f05a50" fill="none"/>
<rect x="170.33" y="700.13" width="6.00" height="6.00" stroke="#f05a50" fill="none"/>
<rect x="174.17" y="697.31" width="6.00" height="6.00" stroke="#f05a50" fill="none"/>
<rect x="178.00" y="693.95" width="6.00" height="6.00" stroke="#f05a50" fill="none"/>
<rect x="181.83" y="689.74" width="6.00" height="6.00" stroke="#f05a50" fill="none"/>
<rect x="185.67" y="684.94" width="6.00" height="6.00" stroke="#f05a50" fill="none"/>
<rect x="189.50" y="679.96" width="6.00" height="6.00" stroke="#f05a50" fill="none"/>
<rect x="193.33" y="675.18" width="6.00" height="6.00" stroke="#f05a50" fill="none"/>
<rect x="197.17" y="670.86" width="6.00" height="6.00" stroke="#f05a50" fill="none"/>
<rect x="201.00" y="666.72" width="6.00" height="6.00" stroke="#f05a50" fill="none"/>
<rect x="204.83" y="662.68" width="6.00" height="6.00" stroke="#f05a50" fill="none"/>
<rect x="208.67" y="658.72" width="6.00" height="6.00" stroke="#f05a50" fill="none"/>
<rect x="212.50" y="654.80" width="6.00" height="6.00" stroke="#f05a50" fill="none"/>
<rect x="216.33" y="650.87" width="6.00" height="6.00" stroke="#f05a50" fill="none"/>
<rect x="220.17" y="647.21" width="6.00" height="6.00" stroke="#f05a50" fill="none"/>
<rect x="224.00" y="643.59" width="6.00" height="6.00" stroke="#f05a50" fill="none"/>
<rect x="227.83" y="639.04" width="6.00" height="6.00" stroke="#f05a50" fill="none"/>
<rect x="231.67" y="632.69" width="6.00" height="6.00" stroke="#f05a50" fill="none"/>
<rect x="235.50" y="624.90" width="6.00" height="6.00" stroke="#f05a50" fill="none"/>
<rect x="154.50" y="711.00" width="6.00" height="6.00" stroke="#e8141c" fill="#e8141c"/>
<rect x="194.70" y="673.60" width="6.00" height="6.00" stroke="#e8141c" fill="#e8141c"/>
<path d="M101.00 750.20L104.10 755.80L97.90 755.80Z" stroke="#5050c8" fill="none"/>
<path d="M104.78 747.18L107.88 752.78L101.68 752.78Z" stroke="#5050c8" fill="none"/>
<path d="M108.55 744.28L111.65 749.88L105.45 749.88Z" stroke="#5050c8" fill="none"/>
<path d="M112.33 741.53L115.43 747.13L109.23 747.13Z" stroke="#5050c8" fill="none"/>
<path d="M116.10 738.92L119.20 744.52L113.00 744.52Z" stroke="#5050c8" fill="none"/>
<path d="M119.88 736.29L122.98 741.89L116.78 741.89Z" stroke="#5050c8" fill="none"/>
<path d="M123.65 733.58L126.75 739.18L120.55 739.18Z" stroke="#5050c8" fill="none"/>
<path d="M127.43 730.85L130.53 736.45L124.33 736.45Z" stroke="#5050c8" fill="none"/>
<path d="M131.21 728.06L134.31 733.66L128.11 733.66Z" stroke="#5050c8" fill="none"/>
<path d="M134.98 725.21L138.08 730.81L131.88 730.81Z" stroke="#5050c8" fill="none"/>
<path d="M138.76 722.27L141.86 727.87L135.66 727.87Z" stroke="#5050c8" fill="none"/>
<path d="M142.53 719.25L145.63 724.85L139.43 724.85Z" stroke="#5050c8" fill="none"/>
<path d="M146.31 716.19L149.41 721.79L143.21 721.79Z" stroke="#5050c8" fill="none"/>
<path d="M150.08 713.13L153.18 718.73L146.98 718.73Z" stroke="#5050c8" fill="none"/>
<path d="M153.86 710.18L156.96 715.78L150.76 715.78Z" stroke="#5050c8" fill="none"/>
<path d="M157.64 707.25L160.74 712.85L154.54 712.85Z" stroke="#5050c8" fill="none"/>
<path d="M161.41 704.14L164.51 709.74L158.31 709.74Z" stroke="#5050c8" fill="none"/>
<path d="M165.19 700.64L168.29 706.24L162.09 706.24Z" stroke="#5050c8" fill="none"/>
<path d="M168.96 696.62L172.06 702.22L165.86 702.22Z" stroke="#5050c8" fill="none"/>
<path d="M172.74 692.20L175.84 697.80L169.64 697.80Z" stroke="#5050c8" fill="none"/>
<path d="M176.51 687.56L179.61 693.16L173.41 693.16Z" stroke="#5050c8" fill="none"/>
<path d="M180.29 682.87L183.39 688.47L177.19 688.47Z" stroke="#5050c8" fill="none"/>
<path d="M184.06 678.29L187.16 683.89L180.96 683.89Z" stroke="#5050c8" fill="none"/>
<path d="M187.84 673.94L190.94 679.54L184.74 679.54Z" stroke="#5050c8" fill="none"/>
<path d="M191.62 669.68L194.72 675.28L188.52 675.28Z" stroke="#5050c8" fill="none"/>
<path d="M195.39 665.43L198.49 671.03L192.29 671.03Z" stroke="#5050c8" fill="none"/>
<path d="M199.17 661.13L202.27 666.73L196.07 666.73Z" stroke="#5050c8" fill="none"/>
<path d="M202.94 656.70L206.04 662.30L199.84 662.30Z" stroke="#5050c8" fill="none"/>
<path d="M206.72 652.05L209.82 657.65L203.62 657.65Z" stroke="#5050c8" fill="none"/>
<path d="M210.49 647.12L213.59 652.72L207.39 652.72Z" stroke="#5050c8" fill="none"/>
<path d="M214.27 642.06L217.37 647.66L211.17 647.66Z" stroke="#5050c8" fill="none"/>
<path d="M218.05 637.09L221.15 642.69L214.95 642.69Z" stroke="#5050c8" fill="none"/>
<path d="M221.82 632.40L224.92 638.00L218.72 638.00Z" stroke="#5050c8" fill="none"/>
<path d="M225.60 628.14L228.70 633.74L222.50 633.74Z" stroke="#5050c8" fill="none"/>
<path d="M229.37 624.00L232.47 629.60L226.27 629.60Z" stroke="#5050c8" fill="none"/>
<path d="M233.15 619.50L236.25 625.10L230.05 625.10Z" stroke="#5050c8" fill="none"/>
<path d="M236.92 614.56L240.02 620.16L233.82 620.16Z" stroke="#5050c8" fill="none"/>
<path d="M240.70 609.30L243.80 614.90L237.60 614.90Z" stroke="#5050c8" fill="none"/>
<path d="M164.00 701.80L167.10 707.40L160.90 707.40Z" stroke="#2020b0" fill="#2020b0"/>
<path d="M204.60 654.70L207.70 660.30L201.50 660.30Z" stroke="#2020b0" fill="#2020b0"/>
<circle cx="101.00" cy="754.00" r="3.25" stroke="#36985a" fill="none"/>
<circle cx="104.77" cy="751.04" r="3.25" stroke="#36985a" fill="none"/>
<circle cx="108.54" cy="748.12" r="3.25" stroke="#36985a" fill="none"/>
<circle cx="112.31" cy="745.25" r="3.25" stroke="#36985a" fill="none"/>
<circle cx="116.07" cy="742.44" r="3.25" stroke="#36985a" fill="none"/>
<circle cx="119.84" cy="739.62" r="3.25" stroke="#36985a" fill="none"/>
<circle cx="123.61" cy="736.78" r="3.25" stroke="#36985a" fill="none"/>
<circle cx="127.38" cy="733.95" r="3.25" stroke="#36985a" fill="none"/>
<circle cx="131.15" cy="731.06" r="3.25" stroke="#36985a" fill="none"/>
<circle cx="134.92" cy="728.07" r="3.25" stroke="#36985a" fill="none"/>
<circle cx="138.69" cy="724.94" r="3.25" stroke="#36985a" fill="none"/>
<circle cx="142.45" cy="721.71" r="3.25" stroke="#36985a" fill="none"/>
<circle cx="146.22" cy="718.40" r="3.25" stroke="#36985a" fill="none"/>
<circle cx="149.99" cy="715.01" r="3.25" stroke="#36985a" fill="none"/>
<circle cx="153.76" cy="711.59" r="3.25" stroke="#36985a" fill="none"/>
<circle cx="157.53" cy="708.14" r="3.25" stroke="#36985a" fill="none"/>
<circle cx="161.30" cy="704.63" r="3.25" stroke="#36985a" fill="none"/>
<circle cx="165.07" cy="701.03" r="3.25" stroke="#36985a" fill="none"/>
<circle cx="168.83" cy="697.31" r="3.25" stroke="#36985a" fill="none"/>
<circle cx="172.60" cy="693.44" r="3.25" stroke="#36985a" fill="none"/>
<circle cx="176.37" cy="689.41" r="3.25" stroke="#36985a" fill="none"/>
<circle cx="180.14" cy="685.23" r="3.25" stroke="#36985a" fill="none"/>
<circle cx="183.91" cy="680.89" r="3.25" stroke="#36985a" fill="none"/>
<circle cx="187.68" cy="676.37" r="3.25" stroke="#36985a" fill="none"/>
<circle cx="191.45" cy="671.65" r="3.25" stroke="#36985a" fill="none"/>
<circle cx="195.21" cy="666.71" r="3.25" stroke="#36985a" fill="none"/>
<circle cx="198.98" cy="661.35" r="3.25" stroke="#36985a" fill="none"/>
<circle cx="202.75" cy="655.56" r="3.25" stroke="#36985a" fill="none"/>
<circle cx="206.52" cy="649.58" r="3.25" stroke="#36985a" fill="none"/>
<circle cx="210.29" cy="643.63" r="3.25" stroke="#36985a" fill="none"/>
<circle cx="214.06" cy="637.92" r="3.25" stroke="#36985a" fill="none"/>
<circle cx="217.83" cy="632.22" r="3.25" stroke="#36985a" fill="none"/>
<circle cx="221.59" cy="627.01" r="3.25" stroke="#36985a" fill="none"/>
<circle cx="225.36" cy="622.69" r="3.25" stroke="#36985a" fill="none"/>
<circle cx="229.13" cy="618.87" r="3.25" stroke="#36985a" fill="none"/>
<circle cx="232.90" cy="615.70" r="3.25" stroke="#36985a" fill="none"/>
<circle cx="173.40" cy="692.60" r="3.25" stroke="#057a36" fill="#057a36"/>
<circle cx="213.60" cy="638.60" r="3.25" stroke="#057a36" fill="#057a36"/>
<path d="M104.30 761.40L107.40 755.80L101.20 755.80Z" stroke="#f8a530" fill="none"/>
<path d="M108.07 757.50L111.17 751.90L104.97 751.90Z" stroke="#f8a530" fill="none"/>
<path d="M111.84 753.59L114.94 747.99L108.74 747.99Z" stroke="#f8a530" fill="none"/>
<path d="M115.62 749.66L118.72 744.06L112.52 744.06Z" stroke="#f8a530" fill="none"/>
<path d="M119.39 745.65L122.49 740.05L116.29 740.05Z" stroke="#f8a530" fill="none"/>
<path d="M123.16 741.67L126.26 736.07L120.06 736.07Z" stroke="#f8a530" fill="none"/>
<path d="M126.93 737.93L130.03 732.33L123.83 732.33Z" stroke="#f8a530" fill="none"/>
<path d="M130.70 734.47L133.80 728.87L127.60 728.87Z" stroke="#f8a530" fill="none"/>
<path d="M134.47 730.84L137.57 725.24L131.38 725.24Z" stroke="#f8a530" fill="none"/>
<path d="M138.25 726.67L141.35 721.07L135.15 721.07Z" stroke="#f8a530" fill="none"/>
<path d="M142.02 722.20L145.12 716.60L138.92 716.60Z" stroke="#f8a530" fill="none"/>
<path d="M145.79 717.90L148.89 712.30L142.69 712.30Z" stroke="#f8a530" fill="none"/>
<path d="M149.56 713.70L152.66 708.10L146.46 708.10Z" stroke="#f8a530" fill="none"/>
<path d="M153.33 709.50L156.43 703.90L150.23 703.90Z" stroke="#f8a530" fill="none"/>
<path d="M157.11 705.21L160.21 699.61L154.01 699.61Z" stroke="#f8a530" fill="none"/>
<path d="M160.88 700.74L163.98 695.14L157.78 695.14Z" stroke="#f8a530" fill="none"/>
<path d="M164.65 696.14L167.75 690.54L161.55 690.54Z" stroke="#f8a530" fill="none"/>
<path d="M168.42 691.49L171.52 685.89L165.32 685.89Z" stroke="#f8a530" fill="none"/>
<path d="M172.19 686.88L175.29 681.28L169.09 681.28Z" stroke="#f8a530" fill="none"/>
<path d="M175.97 682.41L179.07 676.81L172.87 676.81Z" stroke="#f8a530" fill="none"/>
<path d="M179.74 678.16L182.84 672.56L176.64 672.56Z" stroke="#f8a530" fill="none"/>
<path d="M183.51 674.11L186.61 668.51L180.41 668.51Z" stroke="#f8a530" fill="none"/>
<path d="M187.28 670.09L190.38 664.49L184.18 664.49Z" stroke="#f8a530" fill="none"/>
<path d="M191.05 665.91L194.15 660.31L187.95 660.31Z" stroke="#f8a530" fill="none"/>
<path d="M194.82 661.34L197.92 655.74L191.72 655.74Z" stroke="#f8a530" fill="none"/>
<path d="M198.60 656.62L201.70 651.02L195.50 651.02Z" stroke="#f8a530" fill="none"/>
<path d="M202.37 652.44L205.47 646.84L199.27 646.84Z" stroke="#f8a530" fill="none"/>
<path d="M206.14 648.74L209.24 643.14L203.04 643.14Z" stroke="#f8a530" fill="none"/>
<path d="M209.91 645.11L213.01 639.51L206.81 639.51Z" stroke="#f8a530" fill="none"/>
<path d="M213.68 641.35L216.78 635.75L210.58 635.75Z" stroke="#f8a530" fill="none"/>
<path d="M217.46 638.26L220.56 632.66L214.36 632.66Z" stroke="#f8a530" fill="none"/>
<path d="M221.23 635.93L224.33 630.33L218.13 630.33Z" stroke="#f8a530" fill="none"/>
<path d="M225.00 634.20L228.10 628.60L221.90 628.60Z" stroke="#f8a530" fill="none"/>
<path d="M177.10 681.10L180.20 675.50L174.00 675.50Z" stroke="#fb9000" fill="#fb9000"/>
<path d="M217.10 638.50L220.20 632.90L214.00 632.90Z" stroke="#fb9000" fill="#fb9000"/>
</g>
<rect x="250.5" y="120.20" width="83" height="50.60" fill="#fff" stroke="#000" stroke-width="1.1"/>
<g stroke-width="1"><rect x="255.00" y="126.20" width="6.00" height="6.00" stroke="#f05a50" fill="none"/><rect x="269.90" y="126.20" width="6.00" height="6.00" stroke="#f05a50" fill="none"/></g>
<text x="283.6" y="132.30" class="mi" font-size="11" textLength="8.8" lengthAdjust="spacingAndGlyphs">C</text>
<path d="M293.3 127.70h7.8M293.3 130.50h7.8" stroke="#000" stroke-width="0.75"/>
<circle cx="309.85" cy="131.50" r="0.8"/>
<text x="302.43" y="132.30" class="mr lg" font-size="9.6" textLength="5.4" lengthAdjust="spacingAndGlyphs">0</text>
<text x="314.33" y="132.30" class="mr lg" font-size="9.6" textLength="5.4" lengthAdjust="spacingAndGlyphs">0</text>
<text x="319.63" y="132.30" class="mr lg" font-size="9.6" textLength="5.4" lengthAdjust="spacingAndGlyphs">0</text>
<text x="324.63" y="132.30" class="mr lg" font-size="9.6" textLength="5.4" lengthAdjust="spacingAndGlyphs">5</text>
<g stroke-width="1"><path d="M258.00 142.20L261.10 147.80L254.90 147.80Z" stroke="#5050c8" fill="none"/><path d="M272.90 142.20L276.00 147.80L269.80 147.80Z" stroke="#5050c8" fill="none"/></g>
<text x="283.6" y="148.10" class="mi" font-size="11" textLength="8.8" lengthAdjust="spacingAndGlyphs">C</text>
<path d="M293.3 143.50h7.8M293.3 146.30h7.8" stroke="#000" stroke-width="0.75"/>
<circle cx="309.85" cy="147.30" r="0.8"/>
<text x="302.43" y="148.10" class="mr lg" font-size="9.6" textLength="5.4" lengthAdjust="spacingAndGlyphs">0</text>
<text x="314.33" y="148.10" class="mr lg" font-size="9.6" textLength="5.4" lengthAdjust="spacingAndGlyphs">0</text>
<text x="319.63" y="148.10" class="mr lg" font-size="9.6" textLength="5.4" lengthAdjust="spacingAndGlyphs">4</text>
<text x="324.63" y="148.10" class="mr lg" font-size="9.6" textLength="5.4" lengthAdjust="spacingAndGlyphs">5</text>
<g stroke-width="1"><circle cx="258.00" cy="160.80" r="3.25" stroke="#36985a" fill="none"/><circle cx="272.90" cy="160.80" r="3.25" stroke="#36985a" fill="none"/></g>
<text x="283.6" y="163.90" class="mi" font-size="11" textLength="8.8" lengthAdjust="spacingAndGlyphs">C</text>
<path d="M293.3 159.30h7.8M293.3 162.10h7.8" stroke="#000" stroke-width="0.75"/>
<circle cx="309.85" cy="163.10" r="0.8"/>
<text x="302.43" y="163.90" class="mr lg" font-size="9.6" textLength="5.4" lengthAdjust="spacingAndGlyphs">0</text>
<text x="314.33" y="163.90" class="mr lg" font-size="9.6" textLength="5.4" lengthAdjust="spacingAndGlyphs">0</text>
<text x="319.63" y="163.90" class="mr lg" font-size="9.6" textLength="5.4" lengthAdjust="spacingAndGlyphs">9</text>
<text x="324.63" y="163.90" class="mr lg" font-size="9.6" textLength="5.4" lengthAdjust="spacingAndGlyphs">0</text>
<rect x="250.5" y="315.20" width="83" height="50.60" fill="#fff" stroke="#000" stroke-width="1.1"/>
<g stroke-width="1"><rect x="255.00" y="321.20" width="6.00" height="6.00" stroke="#f05a50" fill="none"/><rect x="269.90" y="321.20" width="6.00" height="6.00" stroke="#f05a50" fill="none"/></g>
<text x="283.6" y="327.30" class="mi" font-size="11" textLength="8.8" lengthAdjust="spacingAndGlyphs">C</text>
<path d="M293.3 322.70h7.8M293.3 325.50h7.8" stroke="#000" stroke-width="0.75"/>
<circle cx="309.85" cy="326.50" r="0.8"/>
<text x="302.43" y="327.30" class="mr lg" font-size="9.6" textLength="5.4" lengthAdjust="spacingAndGlyphs">0</text>
<text x="314.33" y="327.30" class="mr lg" font-size="9.6" textLength="5.4" lengthAdjust="spacingAndGlyphs">0</text>
<text x="319.63" y="327.30" class="mr lg" font-size="9.6" textLength="5.4" lengthAdjust="spacingAndGlyphs">0</text>
<text x="324.63" y="327.30" class="mr lg" font-size="9.6" textLength="5.4" lengthAdjust="spacingAndGlyphs">5</text>
<g stroke-width="1"><path d="M258.00 337.20L261.10 342.80L254.90 342.80Z" stroke="#5050c8" fill="none"/><path d="M272.90 337.20L276.00 342.80L269.80 342.80Z" stroke="#5050c8" fill="none"/></g>
<text x="283.6" y="343.10" class="mi" font-size="11" textLength="8.8" lengthAdjust="spacingAndGlyphs">C</text>
<path d="M293.3 338.50h7.8M293.3 341.30h7.8" stroke="#000" stroke-width="0.75"/>
<circle cx="309.85" cy="342.30" r="0.8"/>
<text x="302.43" y="343.10" class="mr lg" font-size="9.6" textLength="5.4" lengthAdjust="spacingAndGlyphs">0</text>
<text x="314.33" y="343.10" class="mr lg" font-size="9.6" textLength="5.4" lengthAdjust="spacingAndGlyphs">0</text>
<text x="319.63" y="343.10" class="mr lg" font-size="9.6" textLength="5.4" lengthAdjust="spacingAndGlyphs">1</text>
<text x="324.63" y="343.10" class="mr lg" font-size="9.6" textLength="5.4" lengthAdjust="spacingAndGlyphs">0</text>
<g stroke-width="1"><circle cx="258.00" cy="355.80" r="3.25" stroke="#36985a" fill="none"/><circle cx="272.90" cy="355.80" r="3.25" stroke="#36985a" fill="none"/></g>
<text x="283.6" y="358.90" class="mi" font-size="11" textLength="8.8" lengthAdjust="spacingAndGlyphs">C</text>
<path d="M293.3 354.30h7.8M293.3 357.10h7.8" stroke="#000" stroke-width="0.75"/>
<circle cx="309.85" cy="358.10" r="0.8"/>
<text x="302.43" y="358.90" class="mr lg" font-size="9.6" textLength="5.4" lengthAdjust="spacingAndGlyphs">0</text>
<text x="314.33" y="358.90" class="mr lg" font-size="9.6" textLength="5.4" lengthAdjust="spacingAndGlyphs">0</text>
<text x="319.63" y="358.90" class="mr lg" font-size="9.6" textLength="5.4" lengthAdjust="spacingAndGlyphs">2</text>
<text x="324.63" y="358.90" class="mr lg" font-size="9.6" textLength="5.4" lengthAdjust="spacingAndGlyphs">0</text>
<rect x="250.5" y="510.20" width="83" height="50.60" fill="#fff" stroke="#000" stroke-width="1.1"/>
<g stroke-width="1"><rect x="255.00" y="516.20" width="6.00" height="6.00" stroke="#f05a50" fill="none"/><rect x="269.90" y="516.20" width="6.00" height="6.00" stroke="#f05a50" fill="none"/></g>
<text x="283.6" y="522.30" class="mi" font-size="11" textLength="8.8" lengthAdjust="spacingAndGlyphs">C</text>
<path d="M293.3 517.70h7.8M293.3 520.50h7.8" stroke="#000" stroke-width="0.75"/>
<circle cx="309.85" cy="521.50" r="0.8"/>
<text x="302.43" y="522.30" class="mr lg" font-size="9.6" textLength="5.4" lengthAdjust="spacingAndGlyphs">0</text>
<text x="314.33" y="522.30" class="mr lg" font-size="9.6" textLength="5.4" lengthAdjust="spacingAndGlyphs">0</text>
<text x="319.63" y="522.30" class="mr lg" font-size="9.6" textLength="5.4" lengthAdjust="spacingAndGlyphs">0</text>
<text x="324.63" y="522.30" class="mr lg" font-size="9.6" textLength="5.4" lengthAdjust="spacingAndGlyphs">0</text>
<g stroke-width="1"><path d="M258.00 532.20L261.10 537.80L254.90 537.80Z" stroke="#5050c8" fill="none"/><path d="M272.90 532.20L276.00 537.80L269.80 537.80Z" stroke="#5050c8" fill="none"/></g>
<text x="283.6" y="538.10" class="mi" font-size="11" textLength="8.8" lengthAdjust="spacingAndGlyphs">C</text>
<path d="M293.3 533.50h7.8M293.3 536.30h7.8" stroke="#000" stroke-width="0.75"/>
<circle cx="309.85" cy="537.30" r="0.8"/>
<text x="302.43" y="538.10" class="mr lg" font-size="9.6" textLength="5.4" lengthAdjust="spacingAndGlyphs">0</text>
<text x="314.33" y="538.10" class="mr lg" font-size="9.6" textLength="5.4" lengthAdjust="spacingAndGlyphs">0</text>
<text x="319.63" y="538.10" class="mr lg" font-size="9.6" textLength="5.4" lengthAdjust="spacingAndGlyphs">0</text>
<text x="324.63" y="538.10" class="mr lg" font-size="9.6" textLength="5.4" lengthAdjust="spacingAndGlyphs">5</text>
<g stroke-width="1"><circle cx="258.00" cy="550.80" r="3.25" stroke="#36985a" fill="none"/><circle cx="272.90" cy="550.80" r="3.25" stroke="#36985a" fill="none"/></g>
<text x="283.6" y="553.90" class="mi" font-size="11" textLength="8.8" lengthAdjust="spacingAndGlyphs">C</text>
<path d="M293.3 549.30h7.8M293.3 552.10h7.8" stroke="#000" stroke-width="0.75"/>
<circle cx="309.85" cy="553.10" r="0.8"/>
<text x="302.43" y="553.90" class="mr lg" font-size="9.6" textLength="5.4" lengthAdjust="spacingAndGlyphs">0</text>
<text x="314.33" y="553.90" class="mr lg" font-size="9.6" textLength="5.4" lengthAdjust="spacingAndGlyphs">0</text>
<text x="319.63" y="553.90" class="mr lg" font-size="9.6" textLength="5.4" lengthAdjust="spacingAndGlyphs">0</text>
<text x="324.63" y="553.90" class="mr lg" font-size="9.6" textLength="5.4" lengthAdjust="spacingAndGlyphs">9</text>
<rect x="250.5" y="689.40" width="83" height="66.40" fill="#fff" stroke="#000" stroke-width="1.1"/>
<g stroke-width="1"><rect x="255.00" y="695.40" width="6.00" height="6.00" stroke="#f05a50" fill="none"/><rect x="269.90" y="695.40" width="6.00" height="6.00" stroke="#f05a50" fill="none"/></g>
<text x="283.6" y="701.50" class="mi" font-size="11" textLength="8.8" lengthAdjust="spacingAndGlyphs">C</text>
<path d="M293.3 696.90h7.8M293.3 699.70h7.8" stroke="#000" stroke-width="0.75"/>
<circle cx="309.85" cy="700.70" r="0.8"/>
<text x="302.43" y="701.50" class="mr lg" font-size="9.6" textLength="5.4" lengthAdjust="spacingAndGlyphs">0</text>
<text x="314.33" y="701.50" class="mr lg" font-size="9.6" textLength="5.4" lengthAdjust="spacingAndGlyphs">0</text>
<text x="319.63" y="701.50" class="mr lg" font-size="9.6" textLength="5.4" lengthAdjust="spacingAndGlyphs">0</text>
<text x="324.63" y="701.50" class="mr lg" font-size="9.6" textLength="5.4" lengthAdjust="spacingAndGlyphs">9</text>
<g stroke-width="1"><path d="M258.00 711.40L261.10 717.00L254.90 717.00Z" stroke="#5050c8" fill="none"/><path d="M272.90 711.40L276.00 717.00L269.80 717.00Z" stroke="#5050c8" fill="none"/></g>
<text x="283.6" y="717.30" class="mi" font-size="11" textLength="8.8" lengthAdjust="spacingAndGlyphs">C</text>
<path d="M293.3 712.70h7.8M293.3 715.50h7.8" stroke="#000" stroke-width="0.75"/>
<circle cx="309.85" cy="716.50" r="0.8"/>
<text x="302.43" y="717.30" class="mr lg" font-size="9.6" textLength="5.4" lengthAdjust="spacingAndGlyphs">0</text>
<text x="314.33" y="717.30" class="mr lg" font-size="9.6" textLength="5.4" lengthAdjust="spacingAndGlyphs">0</text>
<text x="319.63" y="717.30" class="mr lg" font-size="9.6" textLength="5.4" lengthAdjust="spacingAndGlyphs">1</text>
<text x="324.63" y="717.30" class="mr lg" font-size="9.6" textLength="5.4" lengthAdjust="spacingAndGlyphs">2</text>
<g stroke-width="1"><circle cx="258.00" cy="730.00" r="3.25" stroke="#36985a" fill="none"/><circle cx="272.90" cy="730.00" r="3.25" stroke="#36985a" fill="none"/></g>
<text x="283.6" y="733.10" class="mi" font-size="11" textLength="8.8" lengthAdjust="spacingAndGlyphs">C</text>
<path d="M293.3 728.50h7.8M293.3 731.30h7.8" stroke="#000" stroke-width="0.75"/>
<circle cx="309.85" cy="732.30" r="0.8"/>
<text x="302.43" y="733.10" class="mr lg" font-size="9.6" textLength="5.4" lengthAdjust="spacingAndGlyphs">0</text>
<text x="314.33" y="733.10" class="mr lg" font-size="9.6" textLength="5.4" lengthAdjust="spacingAndGlyphs">0</text>
<text x="319.63" y="733.10" class="mr lg" font-size="9.6" textLength="5.4" lengthAdjust="spacingAndGlyphs">1</text>
<text x="324.63" y="733.10" class="mr lg" font-size="9.6" textLength="5.4" lengthAdjust="spacingAndGlyphs">5</text>
<g stroke-width="1"><path d="M258.00 748.60L261.10 743.00L254.90 743.00Z" stroke="#f8a530" fill="none"/><path d="M272.90 748.60L276.00 743.00L269.80 743.00Z" stroke="#f8a530" fill="none"/></g>
<text x="283.6" y="748.90" class="mi" font-size="11" textLength="8.8" lengthAdjust="spacingAndGlyphs">C</text>
<path d="M293.3 744.30h7.8M293.3 747.10h7.8" stroke="#000" stroke-width="0.75"/>
<circle cx="309.85" cy="748.10" r="0.8"/>
<text x="302.43" y="748.90" class="mr lg" font-size="9.6" textLength="5.4" lengthAdjust="spacingAndGlyphs">0</text>
<text x="314.33" y="748.90" class="mr lg" font-size="9.6" textLength="5.4" lengthAdjust="spacingAndGlyphs">0</text>
<text x="319.63" y="748.90" class="mr lg" font-size="9.6" textLength="5.4" lengthAdjust="spacingAndGlyphs">2</text>
<text x="324.63" y="748.90" class="mr lg" font-size="9.6" textLength="5.4" lengthAdjust="spacingAndGlyphs">1</text>
<g class="bd"><text x="184.0" y="795.6" class="mi" font-size="14.5">t</text>
<path d="M190.3 799.6L195.7 785.2" stroke="#000" stroke-width="1.0"/>
<text x="197.2" y="795.6" class="mi" font-size="14.5">t</text>
<text x="202.6" y="798.7" class="mr" font-size="9.8" textLength="6.4" lengthAdjust="spacingAndGlyphs">0</text></g>
</svg></body></html>
